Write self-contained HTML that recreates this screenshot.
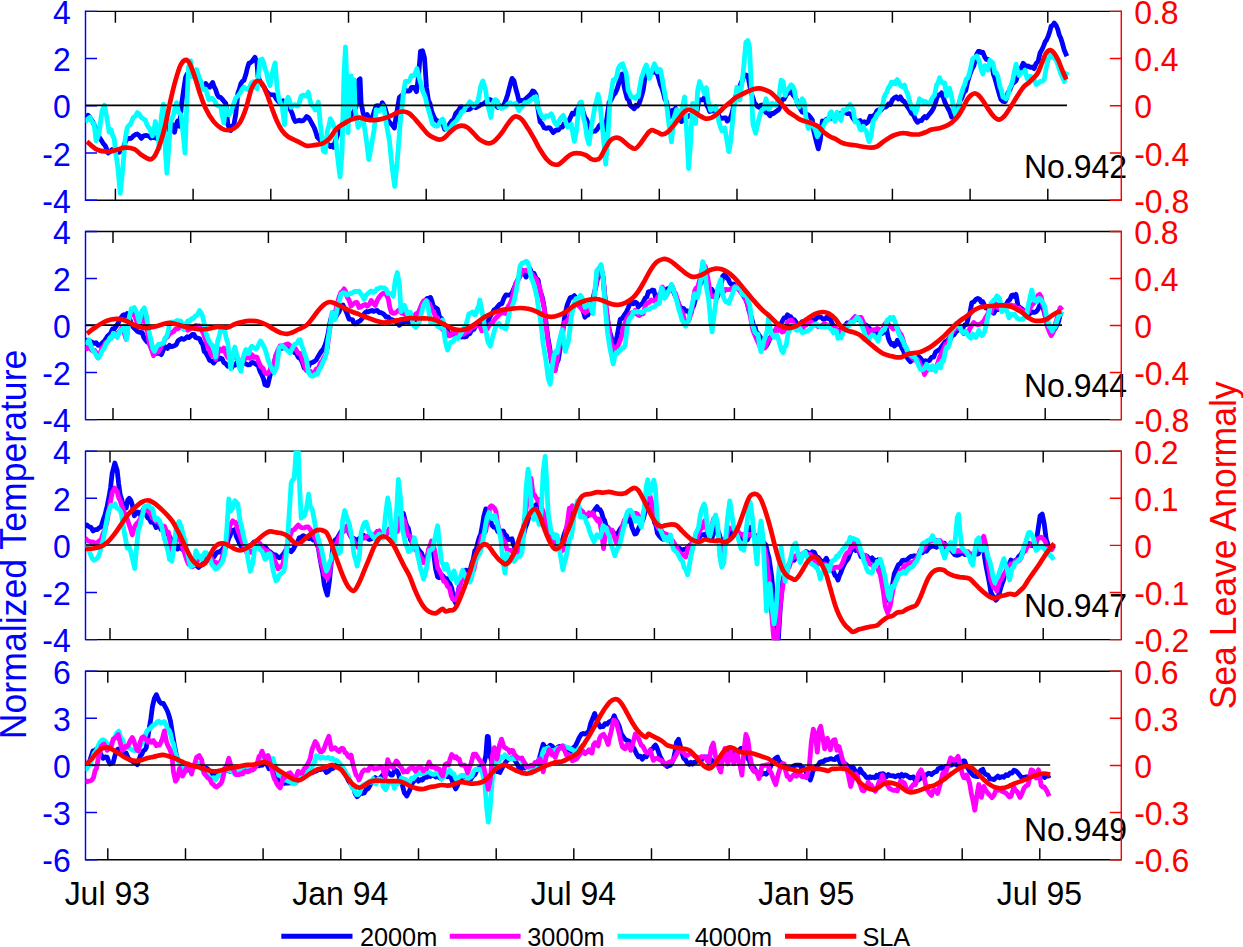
<!DOCTYPE html><html><head><meta charset="utf-8"><style>html,body{margin:0;padding:0;background:#fff;}body{width:1243px;height:947px;overflow:hidden;position:relative;font-family:"Liberation Sans",sans-serif;}</style></head><body>
<svg width="1243" height="947" viewBox="0 0 1243 947" style="position:absolute;left:0;top:0">
<rect width="1243" height="947" fill="#fff"/>
<g fill="none" stroke-width="1.45" stroke-linecap="butt">
<path d="M85.5 11.35 H1121.3 M85.5 200.25 H1121.3 M115.4 11.35 v11.5 M115.4 200.25 v-11.5 M193.1 11.35 v11.5 M193.1 200.25 v-11.5 M270.8 11.35 v11.5 M270.8 200.25 v-11.5 M348.5 11.35 v11.5 M348.5 200.25 v-11.5 M426.2 11.35 v11.5 M426.2 200.25 v-11.5 M503.9 11.35 v11.5 M503.9 200.25 v-11.5 M581.6 11.35 v11.5 M581.6 200.25 v-11.5 M659.3 11.35 v11.5 M659.3 200.25 v-11.5 M737.0 11.35 v11.5 M737.0 200.25 v-11.5 M814.7 11.35 v11.5 M814.7 200.25 v-11.5 M892.4 11.35 v11.5 M892.4 200.25 v-11.5 M970.1 11.35 v11.5 M970.1 200.25 v-11.5 M1047.8 11.35 v11.5 M1047.8 200.25 v-11.5" stroke="#000"/>
<path d="M85.5 10.62 V200.97 M85.5 11.35 h11.5 M85.5 58.58 h11.5 M85.5 105.80 h11.5 M85.5 153.03 h11.5 M85.5 200.25 h11.5" stroke="#0000ff"/>
</g>
<clipPath id="c0"><rect x="85.5" y="10.62" width="1035.8" height="190.35"/></clipPath>
<g clip-path="url(#c0)" fill="none" stroke-linejoin="round" stroke-linecap="butt">
<path d="M85.0 118.6 L86.5 118.7 L88.0 115.3 L89.7 117.0 L91.4 119.9 L93.0 122.2 L95.1 127.0 L97.1 134.1 L99.1 137.2 L101.1 140.0 L103.1 143.3 L105.1 145.5 L106.6 149.0 L108.1 153.0 L110.1 151.7 L112.2 149.5 L113.7 150.4 L115.2 150.2 L117.2 151.8 L119.2 152.3 L121.2 149.9 L123.2 148.1 L125.2 142.3 L127.2 138.5 L129.2 138.5 L131.3 138.3 L133.3 136.0 L135.3 134.6 L137.3 134.0 L139.3 135.6 L141.3 138.4 L143.3 136.1 L145.3 135.4 L147.3 135.7 L149.4 136.3 L151.0 138.0 L152.7 137.5 L154.4 137.4 L156.4 138.4 L158.4 138.9 L160.2 135.5 L161.9 132.7 L163.7 132.0 L165.5 130.8 L167.5 125.9 L169.5 124.5 L171.5 123.7 L173.0 127.2 L174.5 132.2 L176.0 125.0 L177.5 121.1 L179.5 126.2 L181.5 104.9 L183.6 90.1 L185.6 77.2 L187.1 73.9 L188.6 73.7 L190.1 74.4 L191.6 76.0 L193.6 75.9 L195.6 76.8 L197.6 79.5 L199.6 81.7 L201.7 86.7 L203.7 88.9 L205.7 83.6 L207.7 86.1 L209.7 87.3 L211.2 84.6 L212.7 82.5 L214.2 86.9 L215.7 89.7 L217.2 94.5 L218.7 96.9 L220.8 97.6 L222.8 99.9 L224.3 101.7 L225.8 103.6 L227.8 124.1 L229.3 128.2 L230.8 130.5 L232.3 125.9 L233.8 125.1 L235.8 114.0 L237.9 92.8 L239.4 89.1 L240.9 83.5 L242.4 81.3 L243.9 80.5 L245.9 74.2 L247.4 68.0 L248.9 63.3 L250.4 62.7 L251.9 61.5 L253.4 59.4 L255.0 57.3 L257.0 63.3 L258.0 76.5 L260.0 81.5 L262.0 84.5 L264.0 86.8 L266.0 90.6 L268.0 93.3 L270.0 94.6 L272.0 94.9 L274.1 94.8 L276.1 98.8 L278.1 101.1 L279.8 102.7 L281.4 102.6 L283.1 100.7 L284.8 102.8 L286.5 104.2 L288.1 104.3 L290.1 109.2 L292.2 113.5 L293.7 118.5 L295.2 121.5 L297.2 120.9 L299.2 120.2 L301.2 121.0 L303.2 120.7 L305.2 118.5 L306.7 116.5 L308.3 117.5 L309.8 119.5 L311.3 122.4 L312.8 125.2 L314.3 127.9 L315.8 132.1 L317.3 137.2 L319.3 139.5 L321.3 140.4 L323.0 139.9 L324.7 142.5 L326.4 144.5 L328.4 144.4 L330.4 146.6 L331.9 145.4 L333.4 147.3 L335.0 142.1 L337.0 136.5 L339.0 129.6 L341.0 127.0 L343.0 122.6 L345.1 121.8 L347.1 120.4 L349.1 116.9 L351.1 115.1 L353.1 112.8 L355.1 109.0 L357.1 103.6 L358.7 80.1 L360.1 78.9 L361.1 103.1 L363.2 113.5 L365.2 117.2 L367.2 114.5 L368.7 118.2 L370.2 119.8 L372.2 117.6 L374.2 111.4 L376.2 105.8 L377.7 105.7 L379.2 107.6 L380.8 106.5 L382.3 102.7 L383.8 105.2 L385.3 108.9 L386.8 114.3 L388.3 120.4 L390.3 123.1 L392.3 125.1 L394.3 128.0 L396.3 115.4 L397.9 105.9 L399.4 97.5 L400.9 96.0 L402.4 94.9 L403.9 92.3 L405.4 90.1 L406.9 90.9 L408.4 91.2 L409.9 90.8 L411.4 87.4 L412.9 87.3 L414.4 87.6 L416.5 91.7 L418.5 76.3 L420.5 51.3 L422.5 50.7 L424.5 58.0 L426.5 87.5 L428.5 100.5 L430.0 103.6 L431.5 110.5 L433.0 114.8 L434.6 118.3 L436.1 120.1 L437.6 121.1 L439.6 122.0 L441.6 122.6 L443.1 124.3 L444.6 129.2 L446.1 126.5 L447.6 127.0 L449.6 124.0 L451.7 121.0 L453.7 119.5 L455.7 113.5 L457.4 111.8 L459.0 109.5 L460.7 106.9 L462.4 107.0 L464.1 108.4 L465.7 109.6 L467.7 109.6 L469.8 109.1 L471.8 107.4 L473.8 106.5 L475.8 107.9 L477.8 106.5 L479.5 105.8 L481.2 104.3 L482.8 104.1 L484.8 102.7 L486.9 100.6 L488.5 99.6 L490.2 99.6 L491.9 100.5 L493.9 102.4 L495.9 105.6 L497.9 107.4 L499.9 105.6 L501.9 107.8 L503.9 104.9 L506.0 99.6 L507.5 95.2 L509.0 89.4 L510.5 83.5 L512.0 78.4 L514.0 80.7 L516.0 89.5 L517.5 94.5 L519.0 101.2 L521.0 100.5 L523.1 100.3 L525.1 99.3 L527.1 97.7 L529.1 95.7 L531.1 93.7 L532.6 90.9 L534.1 91.5 L536.1 94.8 L538.1 109.6 L540.1 121.9 L542.2 124.0 L544.2 127.8 L546.2 128.4 L548.2 127.7 L549.9 127.8 L551.5 130.2 L553.2 132.6 L554.7 131.3 L556.2 129.8 L558.3 130.2 L560.3 127.4 L562.3 127.2 L564.3 123.3 L566.3 121.9 L568.3 122.3 L570.3 117.7 L572.3 113.3 L574.3 114.0 L576.4 109.8 L578.4 107.9 L580.4 102.8 L582.7 110.6 L585.0 117.7 L586.5 119.3 L588.0 123.5 L589.5 128.2 L591.0 130.5 L593.0 131.4 L595.1 131.2 L597.1 129.4 L599.1 126.0 L600.6 124.4 L602.1 125.3 L603.6 128.1 L605.1 130.0 L607.1 116.9 L609.1 102.4 L611.1 100.0 L613.2 95.4 L615.2 93.2 L617.2 88.7 L618.7 83.6 L620.2 79.0 L622.2 74.0 L624.2 86.9 L625.7 92.8 L627.2 98.6 L628.7 99.7 L630.3 105.4 L632.3 107.1 L634.3 108.8 L635.8 105.3 L637.3 106.3 L638.8 104.3 L640.3 100.1 L641.8 95.3 L643.3 89.7 L645.3 76.0 L646.8 74.0 L648.4 72.0 L649.9 71.0 L651.4 72.8 L652.9 72.3 L654.4 68.7 L655.9 72.7 L657.4 74.1 L658.9 79.0 L660.4 84.6 L661.9 87.9 L663.4 93.0 L664.9 99.2 L666.5 101.7 L668.0 108.7 L669.5 117.1 L671.0 113.7 L672.5 110.2 L674.0 111.2 L675.5 108.2 L677.0 112.3 L678.5 115.2 L680.0 118.6 L681.5 121.6 L683.0 120.4 L684.6 118.2 L686.1 116.5 L687.6 116.9 L689.6 115.4 L691.6 115.5 L693.6 114.9 L695.6 117.9 L697.1 110.7 L698.6 101.3 L700.1 99.8 L701.7 99.9 L703.2 99.4 L704.7 97.1 L706.7 105.1 L708.2 107.9 L709.7 111.5 L711.7 111.0 L713.7 110.0 L715.7 112.3 L717.7 113.9 L719.8 117.2 L721.8 118.3 L723.8 118.0 L725.8 118.0 L727.3 121.1 L728.8 119.7 L730.3 117.9 L731.8 113.9 L733.3 107.9 L734.8 98.7 L736.3 94.7 L737.9 88.7 L739.4 87.8 L740.9 83.2 L742.4 80.3 L743.9 76.0 L745.9 74.9 L747.9 75.7 L749.9 86.5 L751.4 93.6 L752.9 97.7 L754.4 102.7 L756.0 104.6 L757.5 106.5 L759.0 107.3 L760.5 105.5 L762.0 104.9 L764.0 110.1 L766.0 112.4 L768.0 113.2 L770.0 115.8 L771.7 113.3 L773.4 113.5 L775.1 112.2 L777.1 110.8 L779.1 109.1 L780.6 104.1 L782.1 99.7 L784.1 99.2 L786.1 95.2 L788.1 93.1 L790.1 91.2 L791.7 92.8 L793.2 95.1 L794.7 96.8 L796.2 99.4 L798.2 105.4 L800.2 108.5 L802.2 112.0 L804.2 112.7 L806.2 114.0 L808.3 114.9 L810.3 117.1 L812.3 119.9 L813.8 131.3 L815.3 137.4 L816.8 143.3 L818.3 148.9 L820.3 140.0 L822.3 120.9 L824.3 121.8 L826.4 119.1 L828.4 118.9 L830.4 118.3 L832.7 118.2 L835.0 116.0 L836.7 115.6 L838.4 116.8 L840.0 113.8 L841.7 113.2 L843.4 113.0 L845.1 111.5 L847.1 113.5 L849.1 113.7 L850.8 114.0 L852.4 117.4 L854.1 119.7 L856.1 120.8 L858.1 121.7 L860.1 120.4 L862.2 123.1 L864.2 121.7 L866.2 123.4 L868.2 121.7 L870.2 116.2 L871.9 116.9 L873.5 115.6 L875.2 114.4 L876.9 110.9 L878.6 109.9 L880.3 110.9 L881.9 109.2 L883.6 106.8 L885.3 107.2 L887.0 106.0 L888.6 103.9 L890.3 104.6 L892.3 100.0 L894.3 97.9 L896.3 96.8 L898.4 99.0 L900.4 96.9 L902.4 100.5 L903.9 101.2 L905.4 103.4 L907.4 106.7 L909.4 109.7 L911.4 113.3 L913.4 115.0 L915.5 119.6 L917.5 122.3 L919.5 120.7 L921.5 120.7 L923.2 118.0 L924.8 116.6 L926.5 117.9 L928.2 115.6 L929.9 113.5 L931.5 111.6 L933.6 108.0 L935.6 102.3 L937.1 97.3 L938.6 95.0 L940.1 95.1 L941.6 92.8 L943.1 96.6 L944.6 101.5 L946.1 104.9 L947.6 107.7 L949.6 111.2 L951.7 117.1 L953.2 116.6 L954.7 115.0 L956.2 111.8 L957.7 108.3 L959.7 101.3 L961.7 98.4 L963.7 92.7 L965.7 90.6 L967.7 81.8 L969.8 74.6 L971.8 69.3 L973.8 65.9 L975.3 60.0 L976.8 53.9 L978.3 51.5 L979.8 51.3 L981.3 52.7 L982.8 52.2 L984.8 57.1 L986.3 59.3 L987.9 59.5 L989.9 61.9 L991.9 66.1 L993.4 74.1 L994.9 78.3 L996.4 84.0 L997.9 89.4 L999.4 94.7 L1000.9 99.3 L1002.9 101.4 L1005.0 101.7 L1006.5 98.2 L1008.0 92.6 L1010.0 89.7 L1012.0 84.0 L1014.0 82.5 L1016.0 80.8 L1018.0 74.6 L1020.0 70.3 L1021.5 67.4 L1023.1 63.3 L1024.6 64.8 L1026.1 66.6 L1028.1 66.0 L1030.1 67.4 L1032.1 67.0 L1034.1 68.6 L1036.1 63.4 L1038.1 61.4 L1040.1 52.9 L1042.2 49.1 L1043.7 45.6 L1045.2 41.7 L1046.7 39.7 L1048.2 36.1 L1049.7 31.8 L1051.2 25.9 L1052.7 25.3 L1054.2 23.1 L1056.2 25.6 L1057.7 29.1 L1059.3 35.1 L1060.8 38.3 L1062.3 43.0 L1064.3 50.3 L1066.9 56.2" stroke="#0000ff" stroke-width="4.8"/>
<path d="M85.0 118.1 L86.7 120.5 L88.4 118.4 L90.0 117.3 L92.0 121.7 L94.1 123.9 L96.1 140.8 L97.6 137.6 L99.1 133.1 L100.6 121.4 L102.1 110.6 L104.5 105.1 L107.1 119.4 L109.1 132.1 L111.1 129.9 L112.7 135.6 L114.2 138.6 L115.7 153.6 L117.2 162.2 L118.7 176.4 L120.2 193.4 L121.7 179.5 L123.2 164.1 L125.2 138.9 L127.2 127.8 L128.7 125.5 L130.3 124.5 L131.8 121.1 L133.3 117.5 L135.3 116.3 L137.3 112.6 L139.3 114.2 L141.3 117.5 L143.3 118.9 L145.3 120.1 L147.3 125.3 L149.4 128.3 L150.9 132.4 L152.4 135.9 L153.9 130.4 L155.4 121.5 L157.4 129.9 L159.4 148.6 L161.4 115.6 L163.4 104.1 L165.5 153.0 L166.9 173.0 L168.5 151.5 L170.5 122.5 L172.0 118.5 L173.5 114.7 L175.0 107.7 L176.5 102.6 L178.5 112.2 L181.1 114.9 L183.1 133.5 L185.0 153.1 L186.6 110.4 L188.6 66.9 L190.6 60.9 L192.6 76.7 L194.6 73.1 L196.6 69.5 L198.1 74.4 L199.6 78.6 L201.2 82.0 L202.7 89.1 L204.2 89.6 L205.7 89.1 L207.2 94.4 L208.7 99.7 L210.7 98.4 L212.7 98.4 L214.7 101.1 L216.7 105.1 L218.7 106.1 L220.8 106.9 L222.3 116.3 L223.8 122.8 L225.8 106.9 L227.3 112.1 L228.8 114.8 L230.8 112.0 L232.8 106.4 L234.3 102.1 L235.8 97.8 L237.9 96.0 L239.9 93.5 L241.9 89.5 L243.9 87.0 L245.9 88.7 L247.9 89.6 L249.6 87.5 L251.3 83.1 L252.9 81.7 L255.0 87.2 L257.0 88.7 L258.5 74.9 L260.0 60.1 L262.0 59.1 L263.5 62.0 L265.0 68.7 L266.5 72.4 L268.0 80.0 L270.0 85.6 L271.5 77.2 L273.1 69.7 L275.1 62.9 L277.1 88.4 L279.1 99.8 L280.6 103.3 L282.1 106.3 L284.5 124.6 L286.1 101.1 L288.1 97.3 L289.6 101.1 L291.2 107.4 L293.2 105.3 L295.2 104.6 L296.7 106.2 L298.2 105.9 L299.7 101.6 L301.2 96.0 L303.2 95.1 L305.2 95.9 L306.7 96.0 L308.3 92.1 L309.8 99.4 L311.3 105.0 L313.3 106.3 L315.3 110.0 L316.8 106.4 L318.3 102.0 L320.3 123.6 L321.8 136.8 L323.3 151.0 L325.3 152.2 L327.4 130.6 L328.9 125.6 L330.4 118.7 L332.7 123.1 L335.0 129.0 L337.0 152.4 L338.5 164.5 L340.0 176.8 L342.0 153.1 L344.1 71.8 L345.5 46.8 L347.1 88.5 L348.1 132.6 L349.5 76.7 L351.1 75.9 L352.7 106.0 L354.1 79.6 L355.1 108.8 L356.6 118.7 L358.1 127.3 L360.1 123.8 L361.6 122.2 L363.2 119.2 L364.7 128.9 L366.2 138.8 L368.8 159.5 L371.2 146.7 L372.7 137.8 L374.2 129.3 L376.2 109.7 L377.7 110.3 L379.2 111.0 L381.3 109.0 L383.3 106.1 L384.8 113.4 L386.3 123.5 L387.8 131.8 L389.3 139.8 L390.8 154.9 L392.3 168.6 L394.7 186.4 L397.3 160.7 L398.9 140.1 L400.4 120.7 L401.9 108.6 L403.4 92.7 L405.4 81.5 L406.9 81.3 L408.4 81.5 L409.9 79.5 L411.4 75.6 L412.9 75.7 L414.4 75.6 L416.9 68.5 L419.5 78.9 L421.0 84.0 L422.5 90.6 L424.0 94.1 L425.5 98.0 L427.0 104.9 L428.5 109.9 L430.5 116.7 L432.5 123.9 L434.6 125.6 L436.6 126.1 L438.1 125.7 L439.6 122.8 L441.1 120.3 L442.6 119.0 L444.1 122.5 L445.6 128.7 L447.1 128.8 L448.6 130.4 L450.6 127.3 L452.7 124.0 L454.7 122.3 L456.7 120.4 L458.4 117.5 L460.0 115.3 L461.7 111.8 L463.7 110.8 L465.7 107.0 L467.7 105.3 L469.8 101.8 L471.8 103.4 L473.8 105.9 L475.8 103.7 L477.8 101.4 L479.3 94.0 L480.8 85.8 L482.8 81.0 L485.4 89.2 L487.9 105.5 L489.4 111.4 L490.9 117.5 L492.9 103.9 L494.4 100.0 L495.9 99.7 L497.4 101.1 L498.9 107.1 L500.9 108.0 L502.9 108.1 L504.6 107.0 L506.3 105.9 L508.0 103.9 L510.0 102.8 L512.0 104.2 L514.0 103.9 L516.0 103.4 L517.5 107.9 L519.0 110.6 L521.0 107.4 L523.1 105.4 L524.7 102.6 L526.4 102.6 L528.1 102.0 L530.1 100.5 L532.1 99.0 L534.1 98.4 L536.1 96.6 L538.1 107.3 L540.1 112.9 L542.2 116.6 L544.2 118.3 L546.2 115.8 L547.9 116.4 L549.5 115.3 L551.2 113.8 L552.7 116.4 L554.2 121.6 L555.7 124.0 L557.2 125.0 L559.3 120.6 L561.3 117.4 L563.3 115.4 L565.3 120.5 L567.3 126.7 L569.3 125.9 L571.3 124.3 L572.8 133.4 L574.3 141.4 L576.4 131.3 L577.9 116.5 L579.4 103.4 L581.4 102.0 L583.4 117.5 L585.0 123.5 L587.0 137.4 L589.0 144.1 L590.5 133.7 L592.0 123.2 L593.5 114.9 L595.1 105.6 L596.6 100.6 L598.1 94.3 L600.1 104.5 L601.6 120.4 L603.1 133.8 L605.7 164.2 L608.1 132.6 L610.1 98.8 L611.6 89.9 L613.2 79.9 L615.2 80.2 L616.7 76.2 L618.2 68.8 L619.7 65.8 L621.2 64.5 L622.7 63.8 L624.2 68.4 L626.2 73.3 L628.2 90.4 L629.8 93.5 L631.3 97.1 L633.3 97.2 L635.3 98.4 L636.8 96.0 L638.3 96.5 L639.8 86.8 L641.3 78.4 L642.8 74.2 L644.3 69.3 L646.3 64.9 L647.9 71.0 L649.4 78.5 L651.4 72.0 L652.9 68.1 L654.4 63.7 L655.9 67.2 L657.4 71.9 L658.9 69.2 L660.4 69.6 L662.4 79.7 L663.9 88.8 L665.5 97.7 L667.0 108.2 L668.5 121.1 L670.0 130.9 L671.5 141.9 L673.5 121.2 L675.0 114.6 L676.5 109.6 L678.0 112.7 L679.5 116.3 L681.0 110.8 L682.5 107.1 L684.6 97.0 L686.6 129.9 L688.6 168.5 L690.6 141.9 L692.6 103.4 L694.1 113.5 L695.6 123.5 L697.6 91.3 L699.6 81.5 L701.2 85.9 L702.7 89.4 L704.7 94.0 L706.3 87.7 L708.1 100.5 L710.7 110.3 L712.4 108.8 L714.1 108.6 L715.7 106.3 L717.2 113.7 L718.7 121.0 L720.3 126.4 L721.8 130.8 L723.3 128.7 L724.8 128.0 L726.8 140.0 L728.8 151.7 L730.8 140.8 L732.3 124.5 L733.8 109.2 L735.3 98.7 L736.9 87.1 L738.4 92.9 L739.9 100.0 L741.4 87.7 L742.9 75.3 L744.4 59.6 L745.9 42.4 L747.9 40.6 L749.5 47.3 L750.9 77.3 L752.9 124.0 L755.6 133.1 L758.0 122.6 L759.5 116.5 L761.0 111.6 L762.5 109.5 L764.0 108.7 L766.0 98.8 L768.4 109.0 L770.2 107.6 L772.0 103.2 L774.1 104.9 L776.1 105.5 L777.6 100.6 L779.1 95.2 L781.1 80.2 L783.1 81.7 L785.1 95.4 L786.6 90.7 L788.1 89.5 L789.6 86.9 L791.2 84.8 L792.7 86.0 L794.2 89.5 L796.2 100.8 L797.7 103.5 L799.2 107.1 L800.7 102.7 L802.2 98.8 L804.2 101.8 L806.2 120.1 L808.3 128.5 L809.8 126.3 L811.3 123.0 L812.8 126.1 L814.3 127.6 L815.8 131.4 L817.3 136.7 L819.3 132.4 L821.3 129.1 L822.8 127.3 L824.3 124.0 L826.4 119.9 L828.4 120.0 L829.9 113.2 L831.4 111.7 L833.2 117.0 L835.0 121.2 L837.0 112.3 L839.0 116.4 L841.0 120.4 L843.0 109.9 L844.6 110.3 L846.1 110.0 L848.1 107.3 L850.1 104.4 L851.6 106.9 L853.1 109.4 L855.1 122.0 L856.6 121.4 L858.1 123.1 L860.1 129.3 L861.6 130.0 L863.2 126.2 L864.7 129.8 L866.2 130.7 L867.7 137.3 L869.2 141.6 L871.2 135.5 L873.2 121.2 L875.2 118.4 L877.2 114.4 L879.2 112.5 L880.8 108.5 L882.3 107.0 L883.8 98.6 L885.3 94.4 L886.8 92.4 L888.3 87.8 L889.8 86.3 L891.3 82.3 L892.8 83.5 L894.3 81.9 L895.8 84.0 L897.3 79.5 L898.9 82.0 L900.4 85.3 L902.4 86.9 L904.4 85.0 L905.9 90.5 L907.4 93.0 L908.9 98.3 L910.4 103.7 L911.9 108.2 L913.4 107.6 L915.5 113.2 L917.5 107.4 L919.5 98.8 L921.0 100.6 L922.5 100.7 L924.0 103.2 L925.5 101.5 L927.0 102.6 L928.5 104.2 L930.0 103.4 L931.5 99.3 L933.0 96.9 L934.6 94.9 L936.6 84.9 L938.1 82.8 L939.6 77.6 L941.1 81.5 L942.6 83.1 L944.6 82.9 L946.6 96.1 L948.1 89.5 L949.6 88.2 L951.7 97.2 L953.7 109.7 L955.2 114.0 L956.7 117.8 L958.7 107.1 L960.2 97.3 L961.7 93.0 L963.2 87.6 L964.7 84.9 L966.2 79.0 L967.7 78.1 L969.3 73.5 L970.8 67.2 L972.8 58.5 L974.8 57.3 L976.8 56.0 L978.3 58.9 L979.8 63.2 L981.3 69.8 L982.8 74.0 L984.8 65.7 L986.3 67.9 L987.9 70.1 L989.9 60.2 L991.4 61.5 L992.9 62.9 L994.9 73.0 L996.4 72.9 L997.9 76.5 L999.9 86.5 L1001.4 90.4 L1002.9 97.0 L1004.4 97.7 L1006.0 98.9 L1008.0 95.2 L1009.5 88.4 L1011.0 85.7 L1012.5 81.1 L1014.0 73.4 L1016.0 64.2 L1017.5 70.5 L1019.0 75.5 L1020.5 73.9 L1022.0 72.1 L1023.6 72.2 L1025.1 70.1 L1027.1 78.8 L1028.6 78.9 L1030.1 76.2 L1031.6 77.1 L1033.1 79.7 L1034.6 80.5 L1036.1 84.5 L1038.1 83.6 L1040.1 81.5 L1042.2 81.4 L1044.2 79.6 L1046.2 68.0 L1048.2 59.3 L1049.7 58.0 L1051.2 53.2 L1052.7 56.5 L1054.2 58.1 L1056.2 60.3 L1057.7 64.4 L1059.3 69.0 L1060.8 73.9 L1062.3 76.9 L1064.3 81.6 L1065.8 75.3 L1067.3 71.8" stroke="#00ffff" stroke-width="4.8"/>
<path d="M85.5 105.40 H1067.0" stroke="#000" stroke-width="1.6" stroke-linecap="butt"/>
<path d="M87.0 141.7 C88.7 143.0 93.5 148.1 97.1 149.7 C100.6 151.4 104.8 151.7 108.1 151.7 C111.5 151.7 114.3 150.4 117.2 149.7 C120.0 149.1 122.4 147.8 125.2 147.7 C128.1 147.6 131.6 148.0 134.3 149.1 C137.0 150.3 139.1 153.2 141.3 154.8 C143.5 156.3 145.7 157.6 147.3 158.4 C149.0 159.1 150.0 159.8 151.4 159.2 C152.7 158.6 153.9 157.5 155.4 154.8 C156.9 152.0 158.7 147.7 160.4 142.7 C162.1 137.7 163.8 131.6 165.5 124.6 C167.1 117.6 168.8 107.8 170.5 100.5 C172.2 93.1 173.8 86.2 175.5 80.4 C177.2 74.5 178.9 68.7 180.5 65.3 C182.2 61.9 184.1 60.2 185.6 59.9 C187.1 59.5 188.1 60.5 189.6 63.3 C191.1 66.0 192.9 71.5 194.6 76.3 C196.3 81.2 197.8 87.1 199.6 92.4 C201.5 97.8 203.3 103.7 205.7 108.5 C208.0 113.4 211.0 118.2 213.7 121.6 C216.4 124.9 219.4 127.2 221.8 128.6 C224.1 130.1 225.8 130.2 227.8 130.2 C229.8 130.2 231.8 129.9 233.8 128.6 C235.8 127.4 237.9 125.9 239.9 122.6 C241.9 119.2 244.1 113.9 245.9 108.5 C247.7 103.2 249.4 94.8 250.9 90.4 C252.4 86.1 253.8 84.0 255.0 82.4 C256.1 80.8 256.8 80.6 258.0 80.8 C259.1 80.9 260.5 81.1 262.0 83.4 C263.5 85.7 265.3 90.3 267.0 94.4 C268.7 98.6 270.4 104.0 272.0 108.5 C273.7 113.0 275.4 117.9 277.1 121.6 C278.8 125.3 280.3 128.1 282.1 130.6 C283.9 133.1 285.5 134.8 288.1 136.7 C290.8 138.5 295.2 140.2 298.2 141.7 C301.2 143.2 303.6 145.1 306.2 145.7 C308.9 146.3 311.6 145.4 314.3 145.1 C317.0 144.8 319.8 144.8 322.3 143.7 C324.8 142.6 327.3 140.9 329.4 138.7 C331.5 136.5 333.4 132.6 335.0 130.6 C336.6 128.6 337.5 127.8 339.0 126.6 C340.5 125.4 342.0 124.8 344.1 123.6 C346.1 122.4 348.6 120.6 351.1 119.6 C353.6 118.6 356.5 117.6 359.1 117.6 C361.8 117.6 364.5 119.1 367.2 119.6 C369.9 120.0 372.5 120.3 375.2 120.2 C377.9 120.0 380.6 119.3 383.3 118.6 C386.0 117.8 389.0 116.6 391.3 115.6 C393.7 114.6 395.3 113.2 397.3 112.5 C399.4 111.9 401.4 111.4 403.4 111.5 C405.4 111.7 407.4 112.2 409.4 113.5 C411.4 114.9 413.4 117.4 415.5 119.6 C417.5 121.8 419.5 124.3 421.5 126.6 C423.5 129.0 425.5 131.8 427.5 133.7 C429.5 135.5 431.5 136.7 433.6 137.7 C435.6 138.7 437.7 139.7 439.6 139.7 C441.4 139.7 442.9 138.8 444.6 137.7 C446.3 136.5 447.8 134.3 449.6 132.6 C451.5 131.0 453.7 128.8 455.7 127.6 C457.7 126.4 459.7 125.6 461.7 125.6 C463.7 125.6 465.7 126.3 467.7 127.6 C469.8 129.0 471.8 131.6 473.8 133.7 C475.8 135.7 477.8 138.2 479.8 139.7 C481.8 141.2 484.0 142.1 485.8 142.7 C487.7 143.3 489.2 143.6 490.9 143.1 C492.5 142.6 494.1 141.4 495.9 139.7 C497.7 137.9 499.9 135.3 501.9 132.6 C503.9 130.0 506.1 126.1 508.0 123.6 C509.8 121.1 511.5 118.7 513.0 117.6 C514.5 116.4 515.5 116.2 517.0 116.6 C518.5 116.9 520.2 117.6 522.0 119.6 C523.9 121.6 526.1 125.4 528.1 128.6 C530.1 131.8 532.1 135.2 534.1 138.7 C536.1 142.2 538.1 146.4 540.1 149.7 C542.2 153.1 544.2 156.4 546.2 158.8 C548.2 161.1 550.2 162.9 552.2 163.8 C554.2 164.7 556.2 165.1 558.3 164.4 C560.3 163.7 562.3 161.4 564.3 159.8 C566.3 158.2 568.3 155.9 570.3 154.8 C572.3 153.7 573.9 153.2 576.4 153.2 C578.8 153.2 582.6 153.8 585.0 154.8 C587.4 155.7 589.2 157.9 591.0 158.8 C592.9 159.6 594.6 160.0 596.1 159.8 C597.6 159.6 598.6 159.6 600.1 157.8 C601.6 155.9 603.4 151.6 605.1 148.7 C606.8 145.9 608.5 142.5 610.1 140.7 C611.8 138.8 613.5 138.0 615.2 137.7 C616.8 137.3 618.5 137.8 620.2 138.7 C621.9 139.5 623.5 141.4 625.2 142.7 C626.9 144.0 628.6 145.7 630.3 146.7 C631.9 147.7 633.6 149.2 635.3 148.7 C637.0 148.2 638.6 145.7 640.3 143.7 C642.0 141.7 643.8 138.7 645.3 136.7 C646.8 134.7 648.2 132.7 649.4 131.6 C650.5 130.6 651.0 130.1 652.4 130.2 C653.7 130.3 655.7 131.6 657.4 132.2 C659.1 132.9 660.8 134.3 662.4 134.3 C664.1 134.3 665.6 133.7 667.5 132.2 C669.3 130.8 671.5 128.1 673.5 125.6 C675.5 123.2 677.7 119.9 679.5 117.6 C681.4 115.2 683.0 112.9 684.6 111.5 C686.1 110.2 687.1 109.5 688.6 109.5 C690.1 109.5 691.8 110.5 693.6 111.5 C695.5 112.5 697.6 114.4 699.6 115.6 C701.7 116.7 703.7 118.2 705.7 118.6 C707.7 118.9 709.7 118.4 711.7 117.6 C713.7 116.7 715.7 115.2 717.7 113.5 C719.8 111.9 721.8 109.4 723.8 107.5 C725.8 105.7 727.8 104.2 729.8 102.5 C731.8 100.8 733.8 98.8 735.8 97.5 C737.9 96.1 739.9 95.4 741.9 94.4 C743.9 93.4 745.9 92.3 747.9 91.4 C749.9 90.5 752.1 89.5 753.9 89.0 C755.8 88.5 757.3 88.3 759.0 88.4 C760.7 88.5 762.2 88.8 764.0 89.4 C765.8 90.0 768.0 90.7 770.0 92.0 C772.0 93.4 774.1 95.4 776.1 97.5 C778.1 99.5 780.1 102.2 782.1 104.5 C784.1 106.8 786.1 109.7 788.1 111.5 C790.1 113.4 792.2 114.2 794.2 115.6 C796.2 116.9 798.2 118.6 800.2 119.6 C802.2 120.6 804.2 120.9 806.2 121.6 C808.3 122.3 810.3 122.8 812.3 123.6 C814.3 124.4 816.3 125.1 818.3 126.6 C820.3 128.1 822.3 131.0 824.3 132.6 C826.4 134.3 828.6 135.7 830.4 136.7 C832.2 137.7 833.2 137.7 835.0 138.7 C836.8 139.6 839.0 141.4 841.0 142.3 C843.0 143.2 844.7 143.8 847.1 144.3 C849.4 144.8 852.4 144.9 855.1 145.3 C857.8 145.7 860.5 146.3 863.2 146.7 C865.8 147.1 868.9 147.8 871.2 147.7 C873.5 147.7 875.2 147.3 877.2 146.3 C879.2 145.3 881.3 143.1 883.3 141.7 C885.3 140.3 887.3 138.8 889.3 137.7 C891.3 136.5 893.0 135.4 895.3 134.7 C897.7 133.9 900.7 133.1 903.4 133.0 C906.1 133.0 908.7 134.1 911.4 134.3 C914.1 134.5 917.1 134.6 919.5 134.3 C921.8 133.9 923.5 133.0 925.5 132.2 C927.5 131.5 929.2 130.3 931.5 129.6 C933.9 129.0 937.2 128.8 939.6 128.2 C941.9 127.7 943.6 127.1 945.6 126.2 C947.6 125.3 949.6 124.2 951.7 122.6 C953.7 121.0 955.8 118.9 957.7 116.6 C959.5 114.2 961.2 111.2 962.7 108.5 C964.2 105.8 965.4 102.7 966.7 100.5 C968.1 98.3 969.4 96.6 970.8 95.4 C972.1 94.3 973.4 93.4 974.8 93.4 C976.1 93.4 977.5 94.3 978.8 95.4 C980.1 96.6 981.3 98.3 982.8 100.5 C984.3 102.7 986.0 105.8 987.9 108.5 C989.7 111.2 992.0 114.7 993.9 116.6 C995.7 118.4 997.2 119.6 998.9 119.6 C1000.6 119.6 1002.3 118.2 1003.9 116.6 C1005.6 114.9 1007.3 112.0 1009.0 109.5 C1010.7 107.0 1012.3 104.2 1014.0 101.5 C1015.7 98.8 1017.4 96.0 1019.0 93.4 C1020.7 90.9 1022.4 88.2 1024.1 86.4 C1025.7 84.6 1027.4 83.9 1029.1 82.4 C1030.8 80.9 1032.6 79.0 1034.1 77.4 C1035.6 75.7 1036.8 74.8 1038.1 72.3 C1039.5 69.8 1040.8 65.5 1042.2 62.3 C1043.5 59.1 1044.8 55.2 1046.2 53.2 C1047.5 51.2 1048.9 50.2 1050.2 50.2 C1051.5 50.2 1052.9 51.6 1054.2 53.2 C1055.6 54.9 1056.9 57.4 1058.3 60.3 C1059.6 63.1 1060.9 67.1 1062.3 70.3 C1063.6 73.5 1065.6 77.9 1066.3 79.4" stroke="#ff0000" stroke-width="4.7"/>
</g>
<text transform="translate(1024.00,177.75) scale(1,1.040)" text-anchor="start" font-size="32.00" fill="#000" font-family="Liberation Sans, sans-serif">No.942</text>
<path d="M1121.3 10.62 V200.97 M1121.3 11.35 h-11.5 M1121.3 58.58 h-11.5 M1121.3 105.80 h-11.5 M1121.3 153.03 h-11.5 M1121.3 200.25 h-11.5" stroke="#ff0000" fill="none" stroke-width="1.45"/>
<text transform="translate(70.70,23.95) scale(1,1.040)" text-anchor="end" font-size="32.00" fill="#0000ff" font-family="Liberation Sans, sans-serif">4</text>
<text transform="translate(1134.15,23.95) scale(1,1.040)" text-anchor="start" font-size="32.00" fill="#ff0000" font-family="Liberation Sans, sans-serif">0.8</text>
<text transform="translate(70.70,71.17) scale(1,1.040)" text-anchor="end" font-size="32.00" fill="#0000ff" font-family="Liberation Sans, sans-serif">2</text>
<text transform="translate(1134.15,71.17) scale(1,1.040)" text-anchor="start" font-size="32.00" fill="#ff0000" font-family="Liberation Sans, sans-serif">0.4</text>
<text transform="translate(70.70,118.40) scale(1,1.040)" text-anchor="end" font-size="32.00" fill="#0000ff" font-family="Liberation Sans, sans-serif">0</text>
<text transform="translate(1134.15,118.40) scale(1,1.040)" text-anchor="start" font-size="32.00" fill="#ff0000" font-family="Liberation Sans, sans-serif">0</text>
<text transform="translate(70.70,165.62) scale(1,1.040)" text-anchor="end" font-size="32.00" fill="#0000ff" font-family="Liberation Sans, sans-serif">-2</text>
<text transform="translate(1134.15,165.62) scale(1,1.040)" text-anchor="start" font-size="32.00" fill="#ff0000" font-family="Liberation Sans, sans-serif">-0.4</text>
<text transform="translate(70.70,212.85) scale(1,1.040)" text-anchor="end" font-size="32.00" fill="#0000ff" font-family="Liberation Sans, sans-serif">-4</text>
<text transform="translate(1134.15,212.85) scale(1,1.040)" text-anchor="start" font-size="32.00" fill="#ff0000" font-family="Liberation Sans, sans-serif">-0.8</text>
<g fill="none" stroke-width="1.45" stroke-linecap="butt">
<path d="M85.5 231.50 H1121.3 M85.5 419.60 H1121.3 M113.0 231.50 v11.5 M113.0 419.60 v-11.5 M190.7 231.50 v11.5 M190.7 419.60 v-11.5 M268.4 231.50 v11.5 M268.4 419.60 v-11.5 M346.0 231.50 v11.5 M346.0 419.60 v-11.5 M423.7 231.50 v11.5 M423.7 419.60 v-11.5 M501.4 231.50 v11.5 M501.4 419.60 v-11.5 M579.1 231.50 v11.5 M579.1 419.60 v-11.5 M656.8 231.50 v11.5 M656.8 419.60 v-11.5 M734.4 231.50 v11.5 M734.4 419.60 v-11.5 M812.1 231.50 v11.5 M812.1 419.60 v-11.5 M889.8 231.50 v11.5 M889.8 419.60 v-11.5 M967.5 231.50 v11.5 M967.5 419.60 v-11.5 M1045.2 231.50 v11.5 M1045.2 419.60 v-11.5" stroke="#000"/>
<path d="M85.5 230.78 V420.33 M85.5 231.50 h11.5 M85.5 278.52 h11.5 M85.5 325.55 h11.5 M85.5 372.58 h11.5 M85.5 419.60 h11.5" stroke="#0000ff"/>
</g>
<clipPath id="c1"><rect x="85.5" y="230.78" width="1035.8" height="189.55"/></clipPath>
<g clip-path="url(#c1)" fill="none" stroke-linejoin="round" stroke-linecap="butt">
<path d="M85.0 341.6 L87.0 340.2 L89.0 342.7 L91.0 341.6 L92.7 342.5 L94.4 343.3 L96.1 342.7 L98.1 345.3 L100.1 345.4 L102.1 343.1 L104.1 341.4 L105.8 339.0 L107.5 336.2 L109.1 334.9 L110.8 333.0 L112.5 328.9 L114.2 329.1 L116.2 326.1 L118.2 323.2 L119.7 319.4 L121.2 317.4 L122.7 315.4 L124.2 314.6 L125.7 316.0 L127.2 313.6 L128.7 316.8 L130.3 320.4 L131.8 325.0 L133.3 327.2 L135.3 329.2 L137.3 331.3 L139.0 332.2 L140.6 332.5 L142.3 332.7 L143.8 337.5 L145.3 339.8 L147.3 342.2 L149.4 343.2 L151.4 348.9 L153.4 352.4 L155.4 353.5 L157.4 353.4 L159.4 353.0 L161.4 354.6 L163.4 349.6 L165.5 346.8 L167.5 348.4 L169.5 345.3 L171.1 346.7 L172.8 346.3 L174.5 345.7 L176.2 344.7 L177.9 340.9 L179.5 339.7 L181.5 338.5 L183.6 339.4 L185.6 338.2 L187.2 336.7 L188.9 337.6 L190.6 336.2 L192.3 334.5 L193.9 334.3 L195.6 337.5 L197.6 338.1 L199.6 338.8 L201.2 342.6 L202.7 344.5 L204.2 351.5 L205.7 352.6 L207.7 356.3 L209.7 360.5 L211.7 361.0 L213.7 363.0 L215.4 360.8 L217.1 358.4 L218.7 359.2 L220.4 358.0 L222.1 358.7 L223.8 362.4 L225.8 363.7 L227.8 366.3 L229.8 365.0 L231.8 367.7 L233.5 364.4 L235.2 365.1 L236.9 362.5 L238.5 363.6 L240.2 363.8 L241.9 362.6 L243.9 362.8 L245.9 363.9 L247.9 364.9 L249.9 364.6 L251.9 362.4 L253.9 362.9 L256.0 364.4 L258.0 365.0 L260.0 371.4 L262.0 375.0 L263.5 378.8 L265.0 384.8 L267.6 385.6 L270.0 375.7 L271.5 371.3 L273.1 369.1 L274.6 360.8 L276.1 354.9 L277.6 353.8 L279.1 348.7 L281.1 348.3 L283.1 347.9 L284.8 347.8 L286.5 347.7 L288.1 344.8 L290.1 347.1 L292.2 349.0 L294.2 352.4 L296.2 353.2 L298.2 357.3 L300.2 358.4 L302.2 362.0 L304.2 368.1 L306.2 367.1 L308.3 366.9 L310.3 363.1 L312.3 362.5 L314.3 361.5 L316.3 359.9 L318.0 356.7 L319.6 354.1 L321.3 351.4 L323.3 349.0 L325.3 344.6 L326.9 339.0 L328.4 331.9 L329.9 323.0 L331.4 316.5 L333.2 317.6 L335.0 318.2 L337.0 314.7 L339.0 311.8 L341.0 307.0 L343.0 305.0 L345.1 309.2 L347.1 313.8 L349.1 319.1 L351.1 319.5 L352.6 319.8 L354.1 323.8 L356.1 323.8 L358.1 321.8 L360.1 320.8 L362.2 318.5 L363.7 314.4 L365.2 312.5 L366.8 311.5 L368.5 311.8 L370.2 311.0 L371.9 310.4 L373.5 311.4 L375.2 310.8 L377.2 310.4 L379.2 312.5 L381.3 312.7 L383.3 313.9 L384.8 315.2 L386.3 317.2 L388.3 316.9 L390.3 319.4 L392.0 319.7 L393.7 320.5 L395.3 321.0 L397.3 323.0 L399.4 325.3 L401.0 323.8 L402.7 323.2 L404.4 321.1 L406.1 321.5 L407.7 322.1 L409.4 321.7 L411.4 322.6 L413.4 318.8 L415.5 319.7 L417.5 314.3 L419.5 310.8 L421.5 306.1 L423.5 301.4 L425.5 300.5 L427.2 298.3 L428.9 298.4 L430.5 297.4 L432.0 301.3 L433.6 306.8 L435.6 307.7 L437.6 309.0 L439.6 317.3 L441.6 318.5 L443.6 323.7 L445.6 329.3 L447.6 331.2 L449.6 334.3 L451.7 334.9 L453.7 333.1 L455.7 333.8 L457.7 335.1 L459.7 336.2 L461.4 337.0 L463.1 336.6 L464.7 337.0 L466.4 336.6 L468.1 333.2 L469.8 333.7 L471.8 329.8 L473.8 329.5 L475.8 325.9 L477.5 323.9 L479.1 323.5 L480.8 321.2 L482.5 321.6 L484.2 323.8 L485.8 325.3 L487.9 321.6 L489.9 316.9 L491.9 313.6 L493.9 310.1 L495.9 308.8 L497.9 306.4 L499.9 304.1 L501.9 303.8 L503.9 298.3 L506.0 294.8 L508.0 295.1 L510.0 295.0 L512.0 293.0 L514.0 288.2 L516.0 283.4 L518.0 279.4 L520.0 275.6 L522.0 270.0 L524.1 273.1 L526.1 277.1 L528.1 273.4 L530.1 268.8 L532.1 273.6 L534.1 273.5 L536.1 278.2 L538.1 279.9 L540.1 291.1 L542.2 297.0 L543.7 304.2 L545.2 315.3 L546.7 328.5 L548.2 339.8 L549.7 347.7 L551.2 360.1 L553.2 368.3 L555.2 369.7 L556.7 363.3 L558.3 359.8 L559.8 350.4 L561.3 342.8 L562.8 332.0 L564.3 319.3 L565.8 310.8 L567.3 304.6 L568.8 300.9 L570.3 297.5 L572.3 297.1 L574.3 295.6 L576.4 298.7 L578.4 299.8 L580.4 306.8 L582.4 308.5 L585.0 317.2 L586.5 315.1 L588.0 315.0 L589.5 310.4 L591.0 306.0 L592.5 300.3 L594.1 293.9 L595.6 288.0 L597.1 280.7 L599.1 272.7 L601.1 266.9 L603.1 278.6 L605.1 299.8 L606.6 312.0 L608.1 324.5 L609.6 331.1 L611.1 336.3 L612.7 342.3 L614.2 346.6 L615.7 342.4 L617.2 335.5 L618.7 327.2 L620.2 319.4 L622.2 318.3 L624.2 315.2 L626.2 312.4 L628.2 307.9 L629.8 304.0 L631.3 301.2 L633.3 303.8 L635.3 302.1 L636.8 303.0 L638.3 307.0 L640.3 304.8 L642.3 303.7 L643.8 301.0 L645.3 297.8 L646.8 297.1 L648.4 291.8 L650.4 291.4 L652.4 290.0 L653.9 290.3 L655.4 296.8 L657.4 296.2 L659.4 295.7 L660.9 294.2 L662.4 290.3 L663.9 293.2 L665.5 292.5 L667.0 289.0 L668.5 288.3 L670.0 287.5 L671.5 287.7 L673.0 290.3 L674.5 294.2 L676.0 297.6 L677.5 300.5 L679.5 305.8 L681.5 308.9 L683.6 308.5 L685.6 311.1 L687.6 311.0 L689.6 313.4 L691.6 309.4 L693.6 306.0 L695.1 300.7 L696.6 295.5 L698.1 290.9 L699.6 285.9 L701.2 281.8 L702.7 276.6 L704.2 280.1 L705.7 282.1 L707.2 287.2 L708.7 288.0 L710.2 290.1 L711.7 289.3 L713.2 291.7 L714.7 292.6 L716.7 298.3 L718.2 294.5 L719.8 290.8 L721.3 284.3 L722.8 276.0 L724.8 274.2 L726.8 277.9 L728.3 279.2 L729.8 282.6 L731.8 284.8 L733.8 284.0 L735.8 286.8 L737.9 287.2 L739.9 290.4 L741.9 293.5 L743.9 296.9 L745.9 299.7 L747.4 303.7 L748.9 310.4 L750.4 314.3 L751.9 319.1 L753.4 325.2 L755.0 326.9 L756.5 332.4 L758.0 333.5 L760.0 336.6 L762.0 340.9 L764.0 342.5 L766.0 346.4 L767.5 344.1 L769.0 340.5 L770.5 337.3 L772.0 335.9 L774.1 331.3 L776.1 329.8 L778.1 327.5 L780.1 325.3 L782.1 321.5 L784.1 317.9 L785.8 317.8 L787.5 314.8 L789.1 316.1 L790.7 316.8 L792.2 319.1 L794.2 319.7 L796.2 322.5 L798.2 325.5 L800.2 325.8 L801.9 321.8 L803.6 323.7 L805.2 322.5 L806.9 320.7 L808.6 321.7 L810.3 318.5 L811.9 320.2 L813.6 319.8 L815.3 319.5 L817.3 317.4 L819.3 316.9 L821.3 317.4 L823.3 319.4 L825.0 319.0 L826.7 317.1 L828.4 318.6 L830.4 319.4 L832.4 324.1 L835.0 327.1 L837.0 331.0 L839.0 331.6 L841.0 329.6 L843.0 328.7 L845.1 325.7 L847.1 322.9 L849.1 323.4 L851.1 321.6 L853.1 319.4 L855.1 316.9 L857.1 319.5 L859.1 318.1 L861.1 321.7 L863.2 325.3 L865.2 324.7 L867.2 325.8 L869.2 328.0 L871.2 331.1 L873.2 333.6 L875.2 335.4 L877.2 332.9 L879.2 331.6 L881.3 333.8 L883.3 332.9 L884.8 330.2 L886.3 327.6 L888.3 338.0 L889.8 341.8 L891.3 344.4 L892.8 343.5 L894.3 346.1 L895.8 344.5 L897.3 340.3 L898.9 344.3 L900.4 343.9 L901.9 348.2 L903.4 350.6 L904.9 354.9 L906.4 356.5 L908.4 359.5 L910.4 361.7 L912.1 360.2 L913.8 359.5 L915.5 357.5 L917.5 355.8 L919.5 357.2 L921.5 359.4 L923.5 363.8 L925.5 360.7 L927.5 361.4 L929.5 360.3 L931.5 357.4 L933.6 357.2 L935.6 352.0 L937.6 350.7 L939.6 349.6 L941.6 346.7 L943.6 343.9 L945.3 341.6 L947.0 341.1 L948.6 338.8 L950.3 339.1 L952.0 335.7 L953.7 335.1 L955.7 332.1 L957.7 330.5 L959.4 329.0 L961.0 327.7 L962.7 328.1 L964.7 324.9 L966.7 324.6 L968.2 317.7 L969.8 313.5 L971.8 302.8 L973.8 301.9 L975.8 299.5 L977.8 298.5 L979.8 299.5 L981.3 302.3 L982.8 301.7 L984.3 304.8 L985.8 308.1 L987.9 308.3 L989.9 309.4 L991.9 309.9 L993.9 313.2 L995.9 309.3 L997.9 309.7 L999.9 308.1 L1001.9 309.4 L1003.9 305.8 L1006.0 304.9 L1008.0 301.0 L1010.0 299.3 L1011.5 295.6 L1013.0 295.0 L1014.5 296.5 L1016.0 294.4 L1018.0 305.7 L1020.0 307.6 L1022.0 308.9 L1024.1 311.4 L1026.1 314.3 L1028.1 314.6 L1030.1 313.5 L1032.1 311.9 L1034.1 312.4 L1036.1 311.7 L1038.1 309.2 L1040.1 304.3 L1041.7 305.6 L1043.2 308.5 L1044.7 313.9 L1046.2 320.9 L1047.7 322.7 L1049.2 327.6 L1050.7 326.6 L1052.2 330.8 L1053.7 329.7 L1055.2 328.6 L1056.7 325.3 L1058.3 322.3 L1059.8 316.3 L1061.3 311.7" stroke="#0000ff" stroke-width="4.8"/>
<path d="M85.0 349.2 L87.0 348.6 L89.0 345.1 L91.0 349.6 L93.0 351.1 L94.7 350.5 L96.4 353.2 L98.1 357.7 L100.1 353.4 L102.1 347.5 L103.8 346.4 L105.4 342.6 L107.1 341.9 L109.1 339.9 L111.1 336.3 L113.2 336.0 L114.8 335.6 L116.5 333.3 L118.2 333.8 L120.2 330.4 L122.2 327.1 L124.2 332.9 L126.2 339.3 L127.7 329.1 L129.2 317.9 L130.8 313.2 L132.3 310.6 L134.3 315.0 L136.3 320.5 L137.8 322.8 L139.3 326.4 L141.3 319.9 L143.3 314.4 L144.8 320.9 L146.3 325.7 L147.9 334.1 L149.4 344.2 L151.4 348.4 L153.4 355.7 L155.1 353.0 L156.7 352.2 L158.4 351.8 L160.1 349.3 L161.8 344.5 L163.4 343.5 L165.5 338.0 L167.5 337.1 L169.5 333.6 L171.5 332.7 L173.5 331.7 L175.5 329.0 L177.5 328.9 L179.5 327.5 L181.5 326.7 L183.6 326.1 L185.6 328.6 L187.6 330.2 L189.6 329.3 L191.6 327.1 L193.6 327.3 L195.6 325.4 L197.6 325.9 L199.6 325.8 L201.7 330.1 L203.7 334.3 L205.7 340.1 L207.7 346.3 L209.7 351.1 L211.7 355.6 L213.7 355.7 L215.7 359.5 L217.7 354.0 L219.8 348.9 L221.8 350.8 L223.8 348.0 L225.8 353.9 L227.8 357.7 L229.8 356.7 L231.8 357.2 L233.8 356.0 L235.8 357.6 L237.9 358.4 L239.9 362.2 L241.9 361.2 L243.9 360.1 L245.9 357.8 L247.9 357.5 L249.9 358.3 L251.9 354.5 L253.6 357.5 L255.3 356.8 L257.0 357.3 L259.0 362.9 L261.0 366.8 L263.0 368.2 L265.0 372.9 L266.5 373.8 L268.0 373.1 L269.5 371.4 L271.0 367.0 L272.6 365.5 L274.1 362.6 L276.1 354.7 L278.1 349.6 L280.1 346.0 L282.1 345.8 L284.1 345.4 L286.1 344.3 L288.1 343.9 L290.1 345.5 L291.8 347.5 L293.5 348.6 L295.2 348.3 L296.9 351.2 L298.5 353.6 L300.2 353.3 L302.2 359.8 L304.2 365.0 L306.2 370.3 L308.3 371.9 L310.3 371.2 L312.3 374.7 L314.3 372.4 L316.3 368.8 L318.3 368.3 L320.3 363.2 L322.3 360.6 L324.3 356.9 L325.8 354.3 L327.4 347.3 L328.9 334.9 L330.4 324.8 L331.9 318.0 L333.4 312.6 L335.0 314.3 L337.0 304.4 L339.0 297.4 L340.7 292.7 L342.4 291.3 L344.1 288.9 L345.6 291.5 L347.1 296.9 L349.1 300.3 L351.1 306.1 L353.1 304.1 L355.1 302.6 L357.1 302.5 L359.1 307.5 L361.1 306.9 L363.2 305.2 L365.2 304.4 L367.2 306.2 L369.2 304.4 L371.2 300.5 L373.2 303.3 L375.2 305.5 L377.2 300.5 L379.2 297.0 L380.9 294.9 L382.6 293.5 L384.3 292.9 L386.3 294.6 L388.3 299.0 L389.8 307.2 L391.3 312.4 L393.3 313.3 L395.3 312.8 L397.3 311.3 L399.4 309.8 L401.4 312.9 L403.4 313.4 L405.1 314.5 L406.7 312.9 L408.4 314.6 L410.4 316.2 L412.4 320.1 L414.2 316.2 L416.0 313.8 L417.7 314.9 L419.5 310.2 L421.5 304.7 L423.5 301.1 L425.0 300.2 L426.5 300.8 L428.0 302.2 L429.5 303.8 L431.5 309.3 L433.6 311.9 L435.6 317.2 L437.6 317.8 L439.1 322.9 L440.6 325.8 L442.6 329.6 L444.6 330.6 L446.6 332.3 L448.6 335.8 L450.3 335.6 L452.0 334.0 L453.7 331.3 L455.7 332.7 L457.7 334.3 L459.7 332.0 L461.7 334.3 L463.7 334.3 L465.7 332.1 L467.7 331.9 L469.8 330.1 L471.8 327.4 L473.8 326.8 L475.8 325.9 L477.8 324.5 L479.8 325.9 L481.8 330.8 L483.8 329.8 L485.5 330.2 L487.2 328.9 L488.9 325.7 L490.5 323.9 L492.2 323.8 L493.9 320.4 L495.9 317.9 L497.9 316.2 L499.9 314.1 L501.9 312.9 L503.9 312.5 L506.0 313.6 L508.0 306.6 L510.0 303.9 L512.0 298.7 L514.0 290.0 L516.0 282.9 L518.0 279.8 L520.0 276.3 L522.0 271.1 L524.1 270.3 L526.1 270.2 L528.1 271.6 L530.1 272.0 L532.1 274.0 L534.1 277.8 L536.1 278.5 L538.1 283.3 L540.1 289.6 L542.2 299.2 L544.2 308.0 L546.2 327.3 L548.2 343.1 L550.2 354.3 L552.2 362.6 L553.7 365.8 L555.2 370.8 L556.7 360.5 L558.3 352.4 L559.8 344.4 L561.3 334.1 L562.8 328.4 L564.3 322.6 L566.3 321.8 L568.3 319.4 L570.3 315.1 L572.3 309.7 L574.3 305.5 L576.4 300.6 L578.4 305.5 L580.4 307.3 L582.7 310.3 L585.0 312.7 L587.0 310.8 L589.0 310.7 L591.0 306.6 L593.0 302.2 L595.1 289.9 L597.1 277.2 L598.6 272.5 L600.1 268.6 L601.6 271.9 L603.1 276.5 L605.1 297.9 L606.6 311.6 L608.1 321.7 L609.6 333.4 L611.1 344.4 L612.7 346.0 L614.2 351.1 L615.7 351.4 L617.2 346.7 L618.7 344.1 L620.2 340.0 L621.7 336.4 L623.2 328.3 L624.7 323.9 L626.2 319.7 L628.2 316.3 L630.3 313.4 L631.9 312.7 L633.6 313.7 L635.3 310.2 L637.3 314.6 L639.3 315.5 L641.3 314.0 L643.3 313.8 L645.3 305.5 L647.3 303.1 L649.4 302.3 L651.4 299.9 L653.4 300.6 L655.4 301.8 L657.4 297.4 L659.4 294.6 L660.9 292.1 L662.4 287.0 L663.9 292.4 L665.5 296.7 L667.5 293.2 L669.5 290.2 L671.0 289.4 L672.5 286.6 L674.0 291.4 L675.5 293.4 L677.0 298.7 L678.5 303.6 L680.5 310.1 L682.5 312.6 L684.1 318.6 L685.6 325.7 L687.1 321.7 L688.6 321.0 L690.1 316.2 L691.6 312.6 L693.1 301.0 L694.6 291.1 L696.1 288.1 L697.6 287.6 L699.1 282.2 L700.6 275.3 L702.2 268.7 L703.7 264.6 L705.7 267.4 L707.2 274.9 L708.7 283.3 L710.7 296.6 L712.2 296.1 L713.7 297.1 L715.2 295.4 L716.7 295.5 L718.2 290.7 L719.8 284.6 L721.8 287.3 L723.8 291.9 L725.8 289.3 L727.8 289.7 L729.8 289.4 L731.8 288.6 L733.8 287.3 L735.8 286.0 L737.9 289.0 L739.9 290.9 L741.9 293.7 L743.9 295.1 L745.9 300.3 L747.9 306.0 L749.4 311.6 L750.9 319.6 L752.4 328.3 L753.9 332.8 L756.0 337.8 L758.0 342.3 L760.0 346.6 L762.0 349.1 L763.5 348.0 L765.0 348.0 L766.5 343.8 L768.0 339.4 L770.0 339.0 L772.0 335.5 L774.1 333.5 L776.1 328.3 L778.1 330.4 L780.1 328.3 L782.1 332.1 L784.1 331.4 L785.6 328.4 L787.1 322.9 L789.1 320.9 L791.2 319.9 L793.2 322.6 L795.2 326.3 L797.2 327.0 L799.2 327.8 L800.9 326.0 L802.6 328.6 L804.2 325.1 L806.2 325.1 L808.3 321.6 L809.9 323.5 L811.6 322.0 L813.3 323.7 L815.0 325.0 L816.6 325.0 L818.3 326.8 L820.0 326.0 L821.7 325.7 L823.3 324.2 L825.0 323.7 L826.7 324.8 L828.4 325.1 L830.4 326.7 L832.4 328.9 L835.0 326.2 L836.5 329.2 L838.0 332.1 L839.5 331.5 L841.0 334.4 L843.0 329.8 L845.1 325.5 L847.1 325.6 L849.1 323.5 L851.1 321.8 L853.1 318.5 L855.1 316.8 L857.1 317.4 L859.1 317.8 L861.1 317.4 L863.2 321.8 L865.2 327.6 L867.2 328.6 L869.2 333.3 L871.2 330.5 L873.2 329.7 L875.2 330.0 L877.2 328.5 L879.2 329.4 L881.3 331.8 L882.8 329.0 L884.3 324.9 L885.8 322.9 L887.3 321.8 L888.8 325.6 L890.3 326.0 L891.8 327.4 L893.3 329.0 L895.3 327.8 L897.3 328.1 L899.4 332.7 L901.4 334.9 L902.9 339.3 L904.4 345.0 L905.9 348.0 L907.4 351.7 L909.1 354.1 L910.8 356.6 L912.4 357.9 L914.1 359.7 L915.8 360.4 L917.5 359.5 L919.5 362.7 L921.5 366.7 L923.0 369.9 L924.5 374.5 L926.0 371.4 L927.5 370.3 L929.5 369.3 L931.5 369.1 L933.6 367.9 L935.6 368.8 L937.6 363.4 L939.6 357.5 L941.6 353.1 L943.6 349.1 L945.6 344.2 L947.6 344.5 L949.6 337.0 L951.7 333.2 L953.7 330.7 L955.7 328.6 L957.7 327.9 L959.7 325.7 L961.7 331.0 L963.7 333.6 L965.7 331.3 L967.7 333.5 L969.8 328.6 L971.8 325.1 L973.8 322.5 L975.8 324.1 L977.8 324.8 L979.8 324.2 L981.8 322.9 L983.8 321.1 L985.3 317.9 L986.9 315.6 L988.9 311.7 L990.9 312.4 L992.5 308.4 L994.2 305.4 L995.9 303.9 L997.9 307.7 L999.9 308.6 L1001.9 307.4 L1003.9 306.9 L1006.0 305.2 L1007.6 305.6 L1009.3 305.5 L1011.0 304.8 L1012.7 306.2 L1014.3 305.6 L1016.0 308.0 L1017.7 310.0 L1019.4 308.1 L1021.0 311.0 L1022.7 310.5 L1024.4 312.9 L1026.1 312.5 L1028.1 312.6 L1030.1 307.9 L1032.1 305.0 L1034.1 302.8 L1036.1 298.8 L1038.1 295.3 L1039.6 294.3 L1041.2 297.0 L1042.7 304.5 L1044.2 308.9 L1045.7 318.3 L1047.2 326.1 L1049.2 331.5 L1051.2 335.6 L1052.7 333.3 L1054.2 329.9 L1055.7 322.7 L1057.2 318.3 L1058.8 311.1 L1060.3 307.7 L1062.3 310.0" stroke="#ff00ff" stroke-width="4.8"/>
<path d="M85.0 341.5 L87.0 342.9 L89.0 339.8 L91.0 346.4 L93.0 350.4 L94.7 352.4 L96.4 355.8 L98.1 358.1 L100.1 355.6 L102.1 350.9 L104.1 348.3 L106.1 343.8 L108.1 341.2 L110.1 337.6 L111.6 338.2 L113.2 333.3 L115.2 334.5 L117.2 337.4 L119.2 332.7 L121.2 329.6 L122.7 330.2 L124.2 325.9 L126.6 339.4 L128.8 319.2 L131.3 308.7 L132.8 309.3 L134.3 307.5 L136.9 313.1 L139.3 322.3 L141.7 311.5 L144.3 307.9 L146.3 315.2 L148.4 328.8 L149.9 335.6 L151.4 341.7 L152.9 349.0 L154.4 351.3 L156.4 347.4 L158.4 344.4 L160.1 344.4 L161.8 343.8 L163.4 343.0 L164.9 338.5 L166.5 336.9 L168.0 332.2 L169.5 323.6 L171.5 322.0 L173.0 323.4 L174.5 321.8 L176.0 321.2 L177.5 320.4 L179.0 321.5 L180.5 320.9 L182.0 323.7 L183.6 329.5 L185.1 325.7 L186.6 322.4 L188.1 320.7 L189.6 321.5 L191.6 318.6 L193.6 318.4 L195.1 316.2 L196.6 315.5 L198.1 313.4 L199.6 310.6 L201.2 312.8 L202.7 316.7 L204.7 325.8 L206.2 333.5 L207.7 338.1 L209.2 341.3 L210.7 343.8 L212.2 345.0 L213.7 347.1 L215.7 357.0 L217.7 341.0 L219.3 336.1 L220.8 328.4 L222.8 331.3 L224.8 331.2 L226.3 338.4 L227.8 343.0 L229.3 356.5 L230.8 368.9 L232.8 355.4 L234.8 347.0 L236.3 353.2 L237.9 359.3 L239.4 367.9 L240.9 371.3 L242.9 358.6 L244.4 353.5 L245.9 349.4 L247.4 353.1 L248.9 353.6 L250.4 348.3 L251.9 346.2 L253.9 347.6 L256.0 349.2 L257.5 347.3 L259.0 343.9 L260.5 341.0 L262.0 343.1 L263.5 345.9 L265.0 349.0 L266.5 353.8 L268.0 359.6 L269.5 363.6 L271.0 367.2 L272.6 370.1 L274.1 372.8 L275.6 369.6 L277.1 365.5 L279.1 347.8 L280.6 346.8 L282.1 345.8 L284.1 347.6 L286.1 349.1 L288.1 351.1 L290.1 352.9 L292.2 348.7 L294.2 344.7 L295.7 344.1 L297.2 343.1 L298.7 340.1 L300.2 339.7 L301.7 345.7 L303.2 348.8 L304.7 354.5 L306.2 357.7 L308.3 371.8 L309.8 374.5 L311.3 376.1 L313.3 376.1 L315.3 374.1 L317.3 374.4 L319.3 369.3 L321.3 366.3 L323.3 361.2 L324.8 358.5 L326.4 353.1 L327.9 340.2 L329.4 331.6 L332.0 312.3 L333.5 316.1 L335.0 319.6 L336.5 312.5 L338.0 303.7 L339.5 300.6 L341.0 294.3 L343.0 292.7 L345.1 293.1 L347.1 295.2 L349.1 293.7 L351.1 293.5 L353.1 292.2 L355.1 291.3 L357.1 291.5 L359.1 291.1 L361.1 294.2 L362.7 296.3 L364.2 299.4 L366.2 294.9 L368.2 293.4 L369.7 292.1 L371.2 290.9 L373.2 292.5 L375.2 291.3 L376.7 288.9 L378.2 288.7 L380.3 287.6 L382.3 287.9 L384.3 287.8 L386.3 289.6 L387.8 293.4 L389.3 293.3 L391.3 293.6 L393.3 296.4 L395.3 280.1 L397.3 272.5 L399.4 284.1 L401.0 311.7 L402.7 307.2 L404.4 305.3 L405.9 309.3 L407.4 313.9 L408.9 313.7 L410.4 312.2 L411.9 318.9 L413.4 325.2 L415.5 327.4 L417.5 325.1 L419.5 321.3 L421.5 313.1 L423.5 305.4 L425.0 302.6 L426.5 300.9 L428.5 308.6 L430.5 322.5 L432.2 322.2 L433.9 323.0 L435.6 323.9 L437.6 326.2 L439.6 327.6 L441.1 323.0 L442.6 319.9 L445.2 341.1 L447.6 350.1 L449.1 345.1 L450.6 342.2 L452.2 342.0 L453.7 340.5 L455.7 337.8 L457.7 338.6 L459.7 335.8 L461.7 332.3 L463.7 328.5 L465.7 325.6 L467.2 320.5 L468.7 314.2 L470.8 313.0 L472.8 311.9 L474.3 314.5 L475.8 314.5 L477.3 308.8 L478.8 305.8 L479.8 300.0 L481.8 310.3 L483.3 318.5 L484.8 327.4 L486.3 333.3 L487.9 341.8 L490.3 346.2 L492.9 336.3 L494.4 330.6 L495.9 326.3 L497.4 324.7 L498.9 323.2 L500.9 326.7 L502.9 326.5 L504.4 328.3 L506.0 328.7 L508.0 319.8 L510.0 309.6 L512.0 306.6 L514.0 301.4 L515.5 294.6 L517.0 286.4 L518.5 277.4 L520.0 266.2 L522.0 263.2 L524.1 262.5 L526.1 261.2 L528.1 262.7 L529.6 269.6 L531.1 277.8 L532.6 280.9 L534.1 285.3 L535.6 291.2 L537.1 297.9 L538.6 309.5 L540.1 316.9 L541.7 329.9 L543.2 344.6 L544.7 352.9 L546.2 362.5 L548.2 378.2 L550.2 384.3 L552.2 366.7 L554.2 354.9 L555.7 351.3 L557.2 352.7 L558.8 343.4 L560.3 336.9 L562.3 329.8 L563.8 340.8 L565.3 351.4 L566.8 346.0 L568.3 342.0 L569.8 330.4 L571.3 317.1 L572.8 309.2 L574.3 303.1 L575.8 298.7 L577.4 299.1 L578.9 297.3 L580.4 295.4 L581.9 297.5 L583.4 301.1 L585.0 307.2 L587.0 305.8 L589.0 303.5 L591.0 308.2 L593.0 313.7 L595.1 288.9 L596.7 270.6 L599.1 268.0 L601.1 264.6 L603.1 277.4 L605.1 306.2 L607.5 332.3 L610.1 349.1 L611.6 356.1 L613.2 364.0 L614.7 356.6 L616.2 352.6 L617.7 353.3 L619.2 350.3 L620.7 350.3 L622.2 348.0 L623.7 347.9 L625.2 344.9 L627.2 326.7 L628.7 320.2 L630.3 317.6 L631.8 316.6 L633.3 312.2 L635.3 311.7 L637.3 312.2 L639.3 311.6 L641.3 312.7 L643.3 311.8 L645.3 310.1 L647.3 309.2 L649.4 309.3 L651.4 307.5 L653.4 307.2 L654.9 306.4 L656.4 304.1 L657.9 303.9 L659.4 303.6 L661.4 287.6 L662.9 290.2 L664.4 298.4 L666.0 296.1 L667.5 292.7 L669.5 289.5 L671.5 284.2 L673.0 288.5 L674.5 293.4 L676.0 298.1 L677.5 304.0 L679.0 310.1 L680.5 314.5 L682.0 320.0 L683.6 322.6 L685.6 326.2 L687.1 322.9 L688.6 320.1 L690.1 313.2 L691.6 306.9 L693.1 300.5 L694.6 293.8 L696.1 295.0 L697.6 297.8 L699.1 290.2 L700.6 280.9 L702.7 261.7 L704.7 269.2 L706.7 289.1 L708.7 300.0 L710.7 321.6 L712.1 331.9 L714.7 310.2 L716.2 299.4 L717.7 288.4 L719.3 283.5 L720.8 279.4 L722.8 295.2 L724.3 299.1 L725.8 301.7 L727.3 301.5 L728.8 303.4 L730.3 299.2 L731.8 295.5 L733.3 291.3 L734.8 286.9 L736.9 288.1 L738.9 287.5 L740.4 288.0 L741.9 294.1 L743.9 295.3 L745.9 293.4 L747.9 300.3 L749.9 305.4 L751.9 323.3 L753.4 327.2 L755.0 332.2 L756.5 333.8 L758.0 334.1 L759.5 345.5 L761.0 351.7 L762.5 347.1 L764.0 340.4 L765.5 336.7 L767.0 331.2 L768.4 318.2 L771.0 333.2 L772.6 334.7 L774.1 337.3 L775.6 335.1 L777.1 335.2 L778.6 339.7 L780.1 345.6 L781.6 350.6 L783.1 352.6 L784.6 346.9 L786.1 346.0 L788.1 332.8 L790.1 329.9 L792.2 325.6 L794.2 326.5 L796.2 330.2 L798.2 330.1 L800.2 328.7 L802.2 332.6 L804.2 332.2 L806.2 331.3 L808.3 330.7 L810.3 329.2 L812.3 325.9 L814.3 324.7 L816.3 323.9 L818.3 325.7 L820.3 326.8 L822.0 326.9 L823.7 326.3 L825.3 327.2 L827.4 325.8 L829.4 327.8 L831.4 329.3 L833.4 332.7 L835.0 330.5 L836.5 331.3 L838.0 338.4 L839.5 337.2 L841.0 337.8 L842.5 334.4 L844.1 328.8 L845.6 328.8 L847.1 327.9 L849.1 325.1 L851.1 322.2 L853.1 322.6 L855.1 319.9 L857.1 317.2 L859.1 319.0 L860.6 321.6 L862.2 326.6 L863.7 330.4 L865.2 335.7 L866.7 339.3 L868.2 341.1 L870.2 337.1 L872.2 335.0 L873.7 335.1 L875.2 337.2 L876.7 338.9 L878.2 341.0 L879.8 334.3 L881.3 332.4 L882.8 330.0 L884.3 330.1 L885.8 325.7 L887.3 320.0 L888.8 320.1 L890.3 317.5 L891.8 319.0 L893.3 317.3 L895.3 322.3 L897.3 329.4 L899.4 335.1 L901.4 338.1 L903.4 342.1 L904.9 346.1 L906.4 347.9 L907.9 353.8 L909.4 354.3 L911.1 355.2 L912.8 356.6 L914.4 356.2 L916.0 359.1 L917.5 363.0 L919.0 366.4 L920.5 369.5 L922.0 369.9 L923.5 369.3 L925.0 367.4 L926.5 364.2 L928.0 367.5 L929.5 369.5 L931.0 367.1 L932.5 365.8 L934.1 369.5 L935.6 371.2 L937.6 365.1 L939.1 364.0 L940.6 367.8 L942.1 360.9 L943.6 361.0 L945.1 352.3 L946.6 347.2 L948.1 347.4 L949.6 343.6 L951.7 330.8 L953.7 328.3 L955.7 323.7 L957.7 326.0 L959.7 326.5 L961.2 330.8 L962.7 332.5 L964.2 332.8 L965.7 331.4 L967.2 334.2 L968.7 336.5 L970.8 338.3 L972.8 334.1 L974.3 335.9 L975.8 337.5 L977.3 333.9 L978.8 330.4 L980.3 333.7 L981.8 335.6 L983.3 334.4 L984.8 331.0 L986.3 324.0 L987.9 316.8 L989.4 310.4 L990.9 303.4 L992.4 301.9 L993.9 299.8 L995.4 299.1 L996.9 295.9 L998.4 297.2 L999.9 299.8 L1001.9 311.8 L1003.9 309.3 L1006.0 307.7 L1007.5 312.8 L1009.0 317.8 L1011.0 314.4 L1013.0 314.7 L1014.5 314.2 L1016.0 316.6 L1017.5 318.4 L1019.0 319.3 L1021.0 319.2 L1023.1 319.3 L1024.6 316.7 L1026.1 317.1 L1027.6 309.0 L1029.1 301.8 L1031.7 290.1 L1034.1 300.3 L1035.6 299.2 L1037.1 301.7 L1038.6 298.2 L1040.1 298.7 L1041.7 300.6 L1043.2 303.2 L1044.7 306.3 L1046.2 314.5 L1047.7 320.1 L1049.2 326.6 L1050.7 327.6 L1052.2 331.2 L1053.7 327.4 L1055.2 327.0 L1056.7 321.8 L1058.3 317.2 L1060.1 314.6 L1061.9 311.1" stroke="#00ffff" stroke-width="4.8"/>
<path d="M85.5 325.15 H1062.0" stroke="#000" stroke-width="1.6" stroke-linecap="butt"/>
<path d="M87.0 333.5 C88.4 332.5 92.4 329.4 95.1 327.5 C97.7 325.7 100.4 323.8 103.1 322.5 C105.8 321.1 108.6 320.1 111.1 319.5 C113.7 318.9 115.8 318.7 118.2 318.9 C120.5 319.0 122.7 319.5 125.2 320.5 C127.7 321.4 130.6 323.3 133.3 324.5 C136.0 325.7 139.0 326.9 141.3 327.5 C143.7 328.1 145.0 328.3 147.3 328.1 C149.7 327.9 152.7 327.2 155.4 326.5 C158.1 325.8 161.1 324.7 163.4 324.1 C165.8 323.5 167.1 322.8 169.5 322.9 C171.8 323.0 174.8 323.8 177.5 324.5 C180.2 325.2 182.9 326.2 185.6 326.9 C188.2 327.6 190.9 328.1 193.6 328.5 C196.3 329.0 199.0 329.5 201.7 329.5 C204.3 329.5 207.0 329.0 209.7 328.5 C212.4 328.1 214.7 327.1 217.7 326.9 C220.8 326.7 225.1 327.9 227.8 327.5 C230.5 327.1 231.5 325.4 233.8 324.5 C236.2 323.6 239.2 322.7 241.9 322.1 C244.6 321.5 247.2 321.0 249.9 320.9 C252.6 320.8 255.3 320.9 258.0 321.5 C260.7 322.1 263.3 323.2 266.0 324.5 C268.7 325.8 271.5 328.1 274.1 329.5 C276.6 330.9 278.9 332.2 281.1 332.9 C283.3 333.7 285.3 334.0 287.1 333.9 C289.0 333.9 290.3 333.3 292.2 332.5 C294.0 331.8 295.8 330.7 298.2 329.5 C300.5 328.4 303.9 327.3 306.2 325.5 C308.6 323.7 310.3 321.0 312.3 318.5 C314.3 316.0 316.3 312.8 318.3 310.4 C320.3 308.1 322.5 305.8 324.3 304.4 C326.2 303.0 327.6 302.1 329.4 302.0 C331.1 301.8 332.7 302.5 335.0 303.4 C337.3 304.3 340.4 306.1 343.0 307.4 C345.7 308.7 348.4 310.3 351.1 311.4 C353.8 312.6 356.5 313.4 359.1 314.4 C361.8 315.4 364.5 316.5 367.2 317.5 C369.9 318.5 372.5 319.6 375.2 320.5 C377.9 321.3 380.6 322.3 383.3 322.5 C386.0 322.7 388.6 321.9 391.3 321.5 C394.0 321.0 396.3 320.4 399.4 319.9 C402.4 319.3 406.1 318.3 409.4 318.1 C412.8 317.8 416.5 318.4 419.5 318.5 C422.5 318.5 424.8 318.2 427.5 318.5 C430.2 318.7 432.9 319.1 435.6 320.1 C438.2 321.0 440.9 322.7 443.6 324.1 C446.3 325.5 449.0 327.5 451.7 328.5 C454.3 329.5 457.0 330.1 459.7 330.1 C462.4 330.1 465.1 329.6 467.7 328.5 C470.4 327.4 473.1 325.3 475.8 323.5 C478.5 321.6 481.2 319.1 483.8 317.5 C486.5 315.8 489.2 314.6 491.9 313.4 C494.6 312.3 496.9 311.2 499.9 310.4 C502.9 309.7 506.6 309.2 510.0 308.8 C513.3 308.4 517.0 308.0 520.0 308.0 C523.1 308.0 525.4 308.2 528.1 308.8 C530.8 309.4 533.4 310.3 536.1 311.4 C538.8 312.5 541.7 314.5 544.2 315.4 C546.7 316.4 548.9 316.9 551.2 316.9 C553.6 316.9 555.7 316.4 558.3 315.4 C560.8 314.5 563.6 313.1 566.3 311.4 C569.0 309.8 571.2 307.2 574.3 305.4 C577.5 303.6 582.2 301.8 585.0 300.8 C587.8 299.8 589.0 299.7 591.0 299.4 C593.0 299.1 595.1 298.7 597.1 299.0 C599.1 299.2 600.8 299.9 603.1 300.8 C605.4 301.6 608.6 303.3 611.1 304.0 C613.7 304.7 615.8 305.0 618.2 304.8 C620.5 304.6 622.9 303.9 625.2 302.8 C627.6 301.7 630.1 300.3 632.3 298.4 C634.4 296.4 636.3 294.2 638.3 291.3 C640.3 288.5 642.3 284.8 644.3 281.3 C646.3 277.8 648.4 273.4 650.4 270.2 C652.4 267.0 654.4 264.0 656.4 262.2 C658.4 260.3 660.6 259.6 662.4 259.2 C664.3 258.7 665.6 258.9 667.5 259.6 C669.3 260.2 671.5 261.7 673.5 263.2 C675.5 264.6 677.5 266.5 679.5 268.2 C681.5 269.9 683.6 271.8 685.6 273.2 C687.6 274.6 689.6 276.1 691.6 276.6 C693.6 277.1 695.6 276.7 697.6 276.2 C699.6 275.8 701.7 274.8 703.7 273.8 C705.7 272.8 707.7 271.1 709.7 270.2 C711.7 269.3 713.7 268.8 715.7 268.6 C717.7 268.4 719.8 268.6 721.8 269.2 C723.8 269.8 725.8 270.9 727.8 272.2 C729.8 273.6 731.8 275.3 733.8 277.2 C735.8 279.2 737.9 281.5 739.9 283.9 C741.9 286.2 743.9 288.9 745.9 291.3 C747.9 293.7 749.9 296.0 751.9 298.4 C753.9 300.7 756.0 303.2 758.0 305.4 C760.0 307.6 762.0 309.6 764.0 311.4 C766.0 313.3 768.0 314.6 770.0 316.5 C772.0 318.3 774.1 320.8 776.1 322.5 C778.1 324.2 780.1 325.6 782.1 326.5 C784.1 327.4 786.1 328.0 788.1 328.1 C790.1 328.2 792.2 327.7 794.2 326.9 C796.2 326.1 798.2 324.7 800.2 323.5 C802.2 322.3 804.2 320.8 806.2 319.5 C808.3 318.1 810.3 316.6 812.3 315.4 C814.3 314.3 816.5 313.4 818.3 312.8 C820.2 312.3 821.7 311.9 823.3 312.0 C825.0 312.1 826.4 312.4 828.4 313.4 C830.3 314.5 832.9 316.3 835.0 318.5 C837.1 320.6 839.0 324.5 841.0 326.5 C843.0 328.5 845.1 329.6 847.1 330.5 C849.1 331.5 851.1 331.5 853.1 332.1 C855.1 332.8 857.1 333.3 859.1 334.6 C861.1 335.8 863.2 337.9 865.2 339.6 C867.2 341.3 869.2 342.9 871.2 344.6 C873.2 346.3 875.2 348.1 877.2 349.6 C879.2 351.1 881.3 352.6 883.3 353.7 C885.3 354.7 887.3 355.1 889.3 355.7 C891.3 356.2 893.3 356.8 895.3 357.1 C897.3 357.3 899.4 357.5 901.4 357.1 C903.4 356.6 905.4 354.9 907.4 354.3 C909.4 353.6 911.4 353.4 913.4 353.0 C915.5 352.7 917.5 352.8 919.5 352.2 C921.5 351.7 923.5 350.6 925.5 349.6 C927.5 348.6 929.5 347.6 931.5 346.2 C933.6 344.9 935.6 343.2 937.6 341.6 C939.6 340.0 941.6 338.4 943.6 336.6 C945.6 334.7 947.6 332.5 949.6 330.5 C951.7 328.5 953.7 326.3 955.7 324.5 C957.7 322.7 959.7 321.0 961.7 319.5 C963.7 318.0 965.7 317.0 967.7 315.4 C969.8 313.9 971.8 311.8 973.8 310.4 C975.8 309.1 977.8 308.1 979.8 307.4 C981.8 306.7 983.5 306.7 985.8 306.4 C988.2 306.1 991.2 306.0 993.9 305.8 C996.6 305.6 999.3 305.3 1001.9 305.4 C1004.6 305.5 1007.6 305.8 1010.0 306.4 C1012.3 307.0 1014.0 307.8 1016.0 308.8 C1018.0 309.8 1020.0 311.0 1022.0 312.4 C1024.1 313.9 1026.1 316.1 1028.1 317.5 C1030.1 318.8 1032.1 319.9 1034.1 320.5 C1036.1 321.0 1038.1 321.0 1040.1 320.9 C1042.2 320.7 1044.2 320.4 1046.2 319.5 C1048.2 318.6 1050.4 316.6 1052.2 315.4 C1054.1 314.3 1055.7 313.1 1057.2 312.4 C1058.8 311.8 1060.6 311.6 1061.3 311.4" stroke="#ff0000" stroke-width="4.7"/>
</g>
<text transform="translate(1024.00,397.10) scale(1,1.040)" text-anchor="start" font-size="32.00" fill="#000" font-family="Liberation Sans, sans-serif">No.944</text>
<path d="M1121.3 230.78 V420.33 M1121.3 231.50 h-11.5 M1121.3 278.52 h-11.5 M1121.3 325.55 h-11.5 M1121.3 372.58 h-11.5 M1121.3 419.60 h-11.5" stroke="#ff0000" fill="none" stroke-width="1.45"/>
<text transform="translate(70.70,244.10) scale(1,1.040)" text-anchor="end" font-size="32.00" fill="#0000ff" font-family="Liberation Sans, sans-serif">4</text>
<text transform="translate(1134.15,244.10) scale(1,1.040)" text-anchor="start" font-size="32.00" fill="#ff0000" font-family="Liberation Sans, sans-serif">0.8</text>
<text transform="translate(70.70,291.12) scale(1,1.040)" text-anchor="end" font-size="32.00" fill="#0000ff" font-family="Liberation Sans, sans-serif">2</text>
<text transform="translate(1134.15,291.12) scale(1,1.040)" text-anchor="start" font-size="32.00" fill="#ff0000" font-family="Liberation Sans, sans-serif">0.4</text>
<text transform="translate(70.70,338.15) scale(1,1.040)" text-anchor="end" font-size="32.00" fill="#0000ff" font-family="Liberation Sans, sans-serif">0</text>
<text transform="translate(1134.15,338.15) scale(1,1.040)" text-anchor="start" font-size="32.00" fill="#ff0000" font-family="Liberation Sans, sans-serif">0</text>
<text transform="translate(70.70,385.18) scale(1,1.040)" text-anchor="end" font-size="32.00" fill="#0000ff" font-family="Liberation Sans, sans-serif">-2</text>
<text transform="translate(1134.15,385.18) scale(1,1.040)" text-anchor="start" font-size="32.00" fill="#ff0000" font-family="Liberation Sans, sans-serif">-0.4</text>
<text transform="translate(70.70,432.20) scale(1,1.040)" text-anchor="end" font-size="32.00" fill="#0000ff" font-family="Liberation Sans, sans-serif">-4</text>
<text transform="translate(1134.15,432.20) scale(1,1.040)" text-anchor="start" font-size="32.00" fill="#ff0000" font-family="Liberation Sans, sans-serif">-0.8</text>
<g fill="none" stroke-width="1.45" stroke-linecap="butt">
<path d="M85.5 451.10 H1121.3 M85.5 639.60 H1121.3 M110.0 451.10 v11.5 M110.0 639.60 v-11.5 M187.8 451.10 v11.5 M187.8 639.60 v-11.5 M265.5 451.10 v11.5 M265.5 639.60 v-11.5 M343.3 451.10 v11.5 M343.3 639.60 v-11.5 M421.1 451.10 v11.5 M421.1 639.60 v-11.5 M498.8 451.10 v11.5 M498.8 639.60 v-11.5 M576.6 451.10 v11.5 M576.6 639.60 v-11.5 M654.4 451.10 v11.5 M654.4 639.60 v-11.5 M732.2 451.10 v11.5 M732.2 639.60 v-11.5 M809.9 451.10 v11.5 M809.9 639.60 v-11.5 M887.7 451.10 v11.5 M887.7 639.60 v-11.5 M965.5 451.10 v11.5 M965.5 639.60 v-11.5 M1043.2 451.10 v11.5 M1043.2 639.60 v-11.5" stroke="#000"/>
<path d="M85.5 450.38 V640.33 M85.5 451.10 h11.5 M85.5 498.23 h11.5 M85.5 545.35 h11.5 M85.5 592.48 h11.5 M85.5 639.60 h11.5" stroke="#0000ff"/>
</g>
<clipPath id="c2"><rect x="85.5" y="450.38" width="1035.8" height="189.95"/></clipPath>
<g clip-path="url(#c2)" fill="none" stroke-linejoin="round" stroke-linecap="butt">
<path d="M85.0 526.4 L87.0 525.0 L89.0 526.8 L91.0 527.4 L93.0 530.9 L95.1 529.6 L97.1 529.7 L99.1 527.9 L101.1 526.8 L103.1 520.1 L105.1 514.6 L107.1 506.2 L109.1 496.3 L110.6 487.3 L112.2 473.1 L114.8 463.0 L117.2 470.5 L118.7 484.0 L120.2 494.8 L121.7 499.4 L123.2 505.0 L124.7 504.6 L126.2 508.1 L127.7 500.1 L129.2 498.4 L130.8 500.3 L132.3 504.9 L134.3 515.8 L135.8 514.0 L137.3 512.0 L138.8 512.6 L140.3 514.9 L141.8 512.8 L143.3 509.5 L144.8 512.3 L146.3 515.3 L147.9 518.0 L149.4 518.9 L151.0 522.2 L152.7 521.5 L154.4 523.7 L156.1 527.5 L157.7 525.9 L159.4 526.2 L161.1 529.6 L162.8 530.0 L164.4 532.6 L166.1 531.2 L167.8 534.3 L169.5 536.4 L171.5 540.0 L173.5 540.2 L175.5 545.0 L177.5 549.1 L179.5 546.0 L181.5 548.8 L183.6 550.1 L185.6 553.0 L187.6 556.6 L189.6 560.9 L191.6 561.3 L193.6 562.7 L195.3 564.0 L197.0 565.9 L198.6 567.4 L200.3 565.7 L202.0 565.1 L203.7 561.7 L205.7 560.7 L207.7 560.3 L209.7 559.5 L211.4 557.4 L213.1 558.2 L214.7 555.9 L216.4 552.8 L218.1 552.0 L219.8 552.2 L221.4 550.5 L223.1 548.3 L224.8 549.3 L226.8 544.9 L228.8 538.1 L230.3 535.1 L231.8 530.0 L233.3 531.0 L234.8 529.6 L236.3 536.5 L237.9 539.7 L239.9 544.3 L241.9 547.3 L243.9 548.6 L245.9 546.7 L247.9 546.0 L249.9 545.8 L251.9 544.3 L253.9 542.1 L256.0 545.2 L258.0 541.9 L259.6 545.4 L261.3 547.1 L263.0 546.2 L264.7 546.5 L266.3 548.4 L268.0 550.5 L270.0 551.7 L272.0 553.6 L274.1 554.9 L275.7 554.8 L277.4 556.7 L279.1 557.9 L281.1 556.8 L283.1 554.4 L285.1 551.2 L287.1 549.7 L289.1 549.9 L291.2 551.7 L293.2 549.4 L295.2 545.5 L297.2 543.1 L299.2 537.8 L301.2 537.2 L303.2 535.6 L305.2 536.7 L307.2 537.9 L309.3 538.6 L311.3 537.7 L313.3 540.1 L315.3 540.2 L316.8 544.2 L318.3 547.5 L319.8 557.4 L321.3 565.5 L322.8 573.3 L324.3 584.7 L325.8 590.5 L327.4 595.1 L329.4 581.5 L331.4 560.3 L333.4 542.8 L335.0 540.1 L337.0 538.5 L339.0 535.1 L341.0 531.6 L343.0 529.2 L344.6 530.4 L346.1 528.5 L347.6 528.9 L349.1 533.1 L351.1 537.1 L353.1 538.3 L355.1 539.2 L357.1 541.3 L359.1 538.5 L361.1 536.9 L363.2 535.0 L365.2 536.4 L367.2 538.1 L369.2 539.5 L371.2 538.9 L373.2 537.0 L375.2 536.2 L377.2 531.4 L379.2 532.6 L381.3 533.7 L383.3 535.4 L385.3 535.4 L387.3 532.9 L389.3 529.0 L391.3 528.1 L393.3 525.9 L395.3 526.7 L397.3 528.9 L398.9 523.7 L400.4 517.7 L401.9 517.8 L403.4 513.2 L405.4 521.8 L406.9 526.2 L408.4 528.4 L410.4 539.5 L411.9 542.1 L413.4 546.2 L415.5 548.5 L417.5 547.7 L419.5 550.9 L421.5 553.1 L423.0 557.2 L424.5 561.0 L426.0 558.6 L427.5 555.2 L429.0 551.1 L430.5 546.9 L432.0 549.0 L433.6 553.5 L435.6 568.6 L437.6 576.9 L439.1 577.8 L440.6 577.4 L442.6 575.6 L444.6 578.1 L446.6 578.5 L448.6 581.3 L450.1 584.3 L451.7 587.9 L453.7 598.8 L455.7 603.4 L457.7 593.9 L459.2 586.8 L460.7 582.4 L462.2 577.3 L463.7 574.5 L465.7 570.1 L467.2 570.5 L468.7 576.0 L470.3 569.1 L471.8 563.6 L473.3 559.0 L474.8 550.6 L476.3 549.1 L477.8 542.5 L479.3 537.4 L480.8 533.8 L482.3 525.8 L483.8 516.3 L485.8 508.9 L487.4 509.9 L488.9 513.3 L490.4 520.3 L491.9 525.3 L493.9 527.2 L495.9 527.4 L497.9 531.7 L499.9 530.5 L501.6 533.4 L503.3 531.0 L505.0 534.8 L506.5 535.6 L508.0 539.6 L510.0 539.4 L512.0 538.8 L513.5 544.7 L515.0 548.6 L517.0 548.8 L519.0 554.4 L520.5 545.4 L522.0 540.2 L523.6 534.7 L525.1 528.4 L527.1 523.1 L529.1 516.1 L531.1 511.6 L533.1 508.7 L535.1 505.4 L537.1 504.1 L538.6 503.5 L540.1 507.6 L541.7 511.0 L543.2 516.4 L544.7 519.7 L546.2 527.7 L548.2 528.6 L550.2 532.7 L552.2 537.9 L554.2 541.6 L556.2 543.7 L558.3 545.9 L560.3 541.7 L562.3 541.0 L564.3 533.9 L566.3 528.6 L568.3 523.7 L570.3 517.7 L572.3 514.1 L574.3 509.2 L576.4 509.2 L578.4 508.2 L580.4 510.1 L582.4 511.9 L585.0 516.0 L587.0 516.3 L589.0 514.8 L591.0 513.5 L593.0 512.4 L595.1 509.3 L597.1 506.6 L598.6 509.7 L600.1 509.7 L601.6 512.5 L603.1 518.0 L604.6 520.4 L606.1 526.1 L608.1 527.7 L610.1 531.3 L611.8 530.2 L613.5 533.7 L615.2 533.6 L617.2 534.4 L619.2 530.8 L621.2 527.4 L623.2 526.1 L625.2 522.8 L627.2 515.9 L628.7 521.0 L630.3 519.4 L631.8 526.8 L633.3 530.4 L634.8 534.0 L636.3 533.6 L637.8 530.3 L639.3 526.8 L641.3 523.6 L643.3 518.8 L644.8 513.1 L646.3 505.5 L647.9 499.3 L649.4 498.9 L650.9 501.1 L652.4 507.9 L654.4 522.1 L655.9 525.2 L657.4 533.2 L659.4 536.1 L661.4 538.2 L663.4 539.5 L665.5 537.9 L667.5 539.5 L669.5 539.8 L671.5 542.3 L673.5 545.6 L675.5 547.3 L677.5 548.6 L679.5 548.2 L681.5 550.3 L683.6 549.4 L685.6 549.3 L687.6 547.4 L689.6 545.3 L691.6 544.7 L693.6 540.7 L695.6 541.3 L697.6 540.7 L699.6 536.6 L701.7 534.8 L703.2 534.7 L704.7 534.2 L706.2 537.0 L707.7 539.2 L709.7 537.4 L711.7 538.7 L713.7 533.0 L715.7 528.7 L717.2 528.9 L718.7 532.4 L720.3 538.0 L721.8 540.4 L723.8 541.1 L725.8 542.4 L727.8 541.0 L729.8 535.5 L731.8 533.0 L733.8 529.6 L735.8 533.0 L737.9 532.1 L739.9 536.1 L741.9 538.3 L743.9 539.5 L745.9 540.1 L747.4 539.8 L748.9 536.2 L750.9 527.3 L752.4 529.2 L753.9 534.4 L756.0 536.0 L758.0 540.0 L760.0 538.7 L762.0 539.0 L764.0 543.0 L766.0 545.1 L767.5 552.6 L769.0 557.9 L771.6 575.8 L774.1 603.0 L776.3 649.2 L777.7 649.9 L780.1 610.7 L782.5 581.5 L784.3 574.7 L786.1 570.7 L788.1 566.0 L790.1 562.4 L792.2 559.3 L794.2 560.3 L796.2 556.1 L798.2 554.6 L800.2 555.4 L802.2 555.8 L804.2 554.0 L806.2 551.4 L808.3 552.8 L810.3 554.9 L812.3 551.7 L814.3 552.3 L816.3 556.8 L818.3 557.6 L820.3 560.0 L822.3 562.2 L824.3 561.3 L826.4 558.2 L828.4 562.7 L830.4 566.7 L832.7 569.6 L835.0 575.4 L836.5 576.3 L838.0 580.0 L839.5 575.6 L841.0 572.3 L842.5 567.9 L844.1 564.6 L846.1 561.1 L848.1 558.7 L849.6 554.7 L851.1 550.8 L852.6 547.7 L854.1 547.5 L855.6 550.5 L857.1 549.4 L859.1 551.8 L861.1 556.8 L863.2 557.4 L865.2 555.5 L867.2 556.3 L869.2 559.7 L870.7 559.5 L872.2 557.9 L873.7 560.6 L875.2 560.2 L876.7 561.9 L878.2 559.9 L879.8 566.9 L881.3 568.7 L882.8 577.0 L884.3 582.7 L886.3 594.4 L888.3 600.3 L889.8 596.8 L891.3 590.5 L892.8 582.7 L894.3 573.7 L896.3 569.3 L898.4 564.7 L900.4 563.7 L902.4 560.3 L904.1 560.2 L905.7 560.4 L907.4 559.5 L909.1 557.6 L910.8 556.4 L912.4 556.3 L914.4 555.7 L916.5 557.6 L918.5 555.2 L920.5 550.4 L922.5 552.7 L924.5 549.9 L926.5 551.2 L928.5 548.4 L930.5 546.8 L932.5 546.2 L934.6 546.4 L936.6 547.3 L938.6 545.5 L940.6 545.0 L942.6 543.5 L944.6 543.2 L946.6 548.3 L948.6 546.6 L950.6 549.1 L952.7 552.3 L954.7 554.7 L956.7 555.3 L958.7 555.0 L960.7 553.8 L962.7 551.9 L964.7 554.5 L966.7 552.9 L968.7 554.8 L970.8 554.5 L972.8 556.9 L974.8 553.6 L976.8 554.1 L978.3 553.9 L979.8 549.9 L981.3 546.6 L982.8 542.8 L984.8 558.7 L986.3 567.6 L987.9 575.5 L989.4 583.1 L990.9 592.3 L992.4 595.4 L993.9 597.0 L995.9 600.3 L997.4 598.5 L998.9 594.4 L1000.4 589.0 L1001.9 584.2 L1003.4 580.3 L1005.0 573.6 L1007.0 568.8 L1009.0 564.3 L1011.0 560.1 L1013.0 561.9 L1015.0 560.5 L1017.0 559.4 L1019.0 556.1 L1021.0 554.5 L1023.1 550.7 L1025.1 550.6 L1027.1 545.4 L1029.1 543.5 L1031.1 545.4 L1033.1 545.6 L1034.6 546.1 L1036.1 543.0 L1038.1 529.2 L1040.1 515.8 L1042.2 514.0 L1044.2 523.5 L1046.2 539.2 L1048.2 545.1 L1049.7 546.7 L1051.2 548.7 L1052.7 547.0 L1054.2 548.7" stroke="#0000ff" stroke-width="4.8"/>
<path d="M85.0 538.0 L87.0 540.0 L89.0 541.2 L91.0 542.2 L93.0 541.9 L95.1 543.3 L97.1 543.1 L99.1 540.8 L101.1 539.8 L103.1 533.3 L105.1 529.3 L107.1 520.5 L109.1 509.1 L110.6 500.9 L112.2 492.7 L114.8 488.0 L117.2 491.6 L118.7 497.8 L120.2 500.7 L122.2 507.1 L124.2 512.8 L126.2 516.3 L128.2 522.0 L130.3 528.1 L132.3 534.9 L134.3 527.7 L136.3 524.0 L138.3 522.0 L140.3 519.2 L142.3 514.4 L144.3 509.1 L145.8 510.4 L147.3 507.1 L148.9 511.6 L150.4 513.1 L152.4 517.9 L154.4 519.1 L156.1 521.8 L157.7 520.7 L159.4 524.0 L161.1 525.6 L162.8 526.1 L164.4 526.2 L166.5 531.5 L168.5 532.3 L170.0 542.6 L171.5 549.9 L173.0 545.8 L174.5 544.0 L176.0 539.7 L177.5 537.2 L179.0 539.4 L180.5 540.3 L182.5 547.4 L184.6 553.3 L186.6 559.6 L188.6 564.3 L190.6 564.5 L192.6 566.8 L194.3 563.6 L196.0 562.3 L197.6 560.4 L199.3 558.4 L201.0 557.5 L202.7 558.0 L204.3 556.0 L206.0 555.5 L207.7 556.1 L209.4 556.4 L211.0 558.0 L212.7 560.0 L214.4 562.8 L216.1 562.5 L217.7 565.3 L219.8 562.7 L221.8 558.9 L223.8 550.9 L225.8 545.6 L227.8 534.2 L229.8 525.8 L231.3 523.2 L232.8 520.8 L234.3 522.4 L235.8 522.3 L237.4 529.1 L238.9 533.2 L240.9 538.0 L242.9 544.1 L244.9 548.8 L246.9 553.1 L248.9 550.7 L250.9 552.3 L252.6 550.9 L254.3 549.2 L256.0 544.3 L258.0 546.5 L260.0 543.6 L261.7 547.4 L263.3 548.5 L265.0 550.5 L266.7 550.5 L268.4 551.7 L270.0 553.1 L272.0 555.1 L274.1 559.6 L276.1 563.7 L278.1 568.8 L280.1 566.6 L282.1 566.5 L284.1 558.3 L286.1 549.8 L288.1 541.9 L290.1 535.8 L292.2 530.4 L294.2 529.6 L296.2 527.2 L298.2 525.0 L300.2 527.1 L302.2 527.8 L304.2 527.9 L306.2 526.8 L308.3 526.9 L310.3 529.6 L312.3 532.7 L314.3 537.1 L316.3 540.2 L318.3 546.5 L319.8 553.9 L321.3 562.9 L322.8 567.4 L324.3 574.8 L325.8 576.3 L327.4 578.6 L329.4 572.3 L331.4 561.1 L333.4 552.5 L335.0 545.6 L337.0 542.7 L339.0 537.5 L341.0 534.2 L343.0 531.9 L345.1 530.5 L347.1 525.7 L349.1 532.4 L351.1 536.4 L353.1 539.3 L355.1 543.9 L356.6 544.9 L358.1 547.5 L359.6 543.3 L361.1 538.6 L363.2 538.4 L365.2 537.7 L367.2 536.1 L369.2 535.5 L371.2 534.9 L373.2 535.1 L375.2 533.9 L377.2 531.9 L379.2 530.7 L381.3 533.9 L383.3 534.2 L385.3 531.9 L387.3 532.7 L389.3 529.7 L391.3 529.0 L393.3 529.0 L395.3 529.7 L397.3 531.6 L399.4 523.3 L401.4 516.3 L402.9 518.6 L404.4 520.9 L405.9 527.2 L407.4 535.5 L408.9 535.5 L410.4 536.5 L411.9 540.4 L413.4 545.6 L415.5 549.8 L417.5 551.8 L419.5 554.5 L421.5 558.5 L423.5 562.6 L425.5 562.8 L427.0 558.1 L428.5 549.4 L430.0 546.3 L431.5 541.0 L433.0 544.3 L434.6 550.1 L436.1 558.2 L437.6 567.8 L439.6 571.1 L441.6 575.2 L443.6 581.1 L445.6 581.7 L447.6 586.5 L449.6 588.2 L451.2 595.5 L452.7 599.2 L454.2 599.9 L455.7 599.8 L457.2 596.4 L458.7 590.1 L460.2 584.4 L461.7 578.8 L463.7 579.2 L465.7 574.0 L467.7 576.3 L469.8 579.5 L471.8 573.3 L473.8 570.0 L475.8 560.3 L477.8 552.2 L479.8 544.4 L481.8 536.1 L483.8 534.2 L485.8 530.9 L487.9 519.3 L489.9 507.1 L491.4 505.7 L492.9 506.6 L494.4 508.1 L495.9 511.2 L497.4 522.8 L498.9 528.9 L500.9 534.7 L502.9 539.7 L505.0 541.9 L507.0 549.6 L509.0 550.0 L511.0 550.3 L513.0 552.4 L515.0 556.2 L517.0 553.7 L519.0 555.0 L520.5 545.9 L522.0 537.8 L524.1 523.8 L526.1 508.8 L527.6 498.5 L529.1 485.9 L531.1 478.3 L533.1 495.0 L534.6 494.8 L536.1 497.6 L537.6 500.3 L539.1 499.6 L541.2 506.7 L543.2 511.6 L545.2 516.5 L547.2 527.1 L549.2 531.6 L551.2 536.6 L553.2 540.4 L555.2 545.1 L557.2 546.8 L559.3 548.9 L561.3 551.1 L563.3 550.0 L564.8 539.8 L566.3 528.9 L567.8 519.9 L569.3 508.2 L570.8 509.3 L572.3 505.7 L574.3 506.6 L576.4 508.7 L578.4 510.0 L580.4 510.0 L582.7 511.8 L585.0 516.8 L587.0 515.4 L589.0 512.7 L591.0 514.7 L593.0 512.8 L594.6 516.8 L596.1 518.6 L597.6 520.9 L599.1 519.1 L601.5 530.6 L603.5 548.6 L605.1 535.6 L606.6 533.3 L608.1 528.2 L610.1 530.1 L612.2 530.1 L614.2 536.6 L616.2 542.5 L618.2 539.7 L620.2 535.5 L622.2 526.4 L624.2 520.5 L626.2 517.8 L628.2 513.1 L630.3 514.4 L632.3 515.6 L633.9 515.1 L635.6 513.1 L637.3 513.9 L638.8 517.7 L640.3 523.7 L642.3 517.4 L644.3 509.7 L646.3 501.7 L648.4 493.5 L649.9 495.3 L651.4 501.4 L652.9 511.5 L654.4 519.0 L656.4 524.7 L658.4 528.6 L660.4 528.5 L662.4 532.4 L664.4 533.4 L666.5 534.2 L668.5 535.8 L670.5 538.9 L672.5 540.6 L674.5 543.5 L676.5 547.1 L678.5 551.7 L680.5 553.4 L682.5 554.2 L684.1 555.7 L685.6 557.0 L687.1 551.8 L688.6 546.2 L690.6 546.2 L692.6 539.9 L694.6 538.7 L696.6 538.6 L698.6 533.3 L700.6 529.3 L702.7 527.3 L704.7 520.6 L706.2 525.8 L707.7 532.6 L709.2 530.1 L710.7 529.4 L712.2 523.9 L713.7 518.8 L715.2 521.1 L716.7 525.6 L718.2 534.9 L719.8 544.1 L721.8 554.6 L723.3 546.7 L724.8 539.7 L726.8 536.0 L728.8 527.7 L730.8 528.5 L732.8 528.2 L734.8 528.0 L736.9 529.2 L738.9 532.9 L740.9 534.1 L742.5 534.4 L744.2 536.8 L745.9 537.6 L747.9 534.7 L749.9 534.3 L751.9 535.0 L753.9 535.7 L756.0 538.0 L758.0 542.8 L760.0 539.4 L762.0 541.6 L764.0 547.0 L766.0 555.5 L767.5 567.0 L769.0 579.8 L771.4 610.9 L773.0 629.8 L774.5 646.1 L776.5 648.0 L778.3 627.8 L780.1 606.3 L781.9 592.8 L783.7 580.0 L785.4 574.7 L787.1 569.7 L789.1 567.3 L791.2 560.3 L793.2 557.6 L795.2 555.9 L796.9 557.2 L798.5 554.6 L800.2 556.7 L802.2 553.8 L804.2 553.9 L806.2 555.5 L808.3 554.6 L810.3 554.3 L812.3 557.8 L814.3 560.3 L816.3 562.7 L818.3 563.9 L820.3 563.3 L822.3 564.8 L824.3 563.9 L826.4 565.2 L828.4 566.9 L830.6 566.9 L832.8 568.5 L835.0 567.4 L837.0 567.0 L839.0 567.9 L841.0 565.9 L843.0 561.7 L845.1 555.8 L847.1 552.7 L849.1 552.1 L851.1 546.6 L852.6 547.0 L854.1 542.8 L855.6 544.3 L857.1 546.2 L859.1 550.8 L861.1 553.9 L863.2 555.3 L865.2 555.1 L867.2 559.3 L869.2 563.5 L871.2 564.7 L873.2 566.2 L875.2 565.4 L877.2 566.2 L878.7 571.3 L880.3 574.5 L881.8 582.9 L883.3 591.4 L885.3 606.4 L887.7 612.8 L890.3 605.5 L891.8 596.3 L893.3 588.8 L894.8 582.5 L896.3 579.6 L898.4 575.1 L900.4 570.9 L902.4 569.1 L904.4 565.7 L906.4 566.2 L908.4 563.8 L910.4 563.0 L912.4 562.2 L914.4 561.7 L916.5 558.1 L918.5 555.3 L920.5 549.9 L922.5 550.2 L924.5 547.6 L926.5 543.6 L928.5 542.2 L930.5 541.2 L932.5 540.6 L934.6 539.9 L936.6 540.4 L938.1 541.0 L939.6 540.2 L941.6 542.2 L943.6 545.1 L945.6 544.6 L947.6 546.4 L949.6 548.3 L951.7 549.8 L953.7 550.7 L955.7 551.8 L957.7 550.3 L959.7 550.8 L961.7 551.2 L963.7 550.7 L965.7 552.9 L967.7 551.5 L969.8 553.7 L971.8 553.9 L973.8 554.4 L975.8 551.1 L977.8 549.5 L979.8 544.4 L981.8 540.0 L983.8 536.3 L985.8 545.4 L987.9 561.5 L989.4 571.6 L990.9 579.8 L992.4 584.4 L993.9 588.2 L995.4 588.4 L996.9 590.9 L998.4 585.8 L999.9 581.2 L1001.4 579.1 L1002.9 576.0 L1005.0 572.5 L1007.0 571.5 L1009.0 566.6 L1011.0 563.7 L1013.0 565.8 L1015.0 561.3 L1017.0 560.0 L1019.0 560.8 L1021.0 558.0 L1023.1 552.4 L1025.1 551.2 L1027.1 546.7 L1029.1 545.2 L1031.1 543.9 L1033.1 543.8 L1035.1 543.9 L1036.6 539.9 L1038.1 538.7 L1039.6 537.7 L1041.2 537.2 L1042.7 538.4 L1044.2 539.9 L1045.7 542.5 L1047.2 547.9 L1048.7 548.4 L1050.2 548.3 L1051.7 549.8 L1053.2 547.4" stroke="#ff00ff" stroke-width="4.8"/>
<path d="M85.0 544.2 L86.5 545.9 L88.0 546.7 L89.5 551.6 L91.0 555.7 L92.5 559.0 L94.1 560.3 L96.1 559.1 L98.1 557.4 L100.1 551.7 L102.1 544.0 L103.6 538.3 L105.1 529.1 L106.6 521.1 L108.1 513.3 L109.6 508.9 L111.1 505.3 L113.2 506.0 L115.2 503.9 L116.7 508.0 L118.2 508.4 L119.7 510.3 L121.2 512.6 L122.7 522.2 L124.2 531.8 L125.7 539.7 L127.2 548.2 L128.7 546.1 L130.3 550.1 L132.9 560.6 L134.7 568.5 L136.3 550.6 L138.3 529.7 L139.8 526.2 L141.3 519.3 L142.8 513.6 L144.3 506.4 L146.3 506.4 L148.4 505.0 L150.4 507.9 L152.4 508.5 L153.9 514.4 L155.4 520.0 L157.4 518.3 L159.4 520.5 L161.4 525.7 L163.4 534.3 L164.9 540.4 L166.5 545.7 L168.0 551.3 L169.5 559.5 L171.9 561.1 L174.5 542.3 L176.5 525.4 L179.1 521.6 L181.5 527.3 L183.0 534.6 L184.6 539.2 L186.1 547.4 L187.6 552.6 L189.1 561.0 L190.6 566.6 L192.1 565.8 L193.6 565.0 L196.0 550.6 L198.6 557.1 L200.1 556.1 L201.7 559.4 L203.2 555.6 L204.7 552.6 L206.2 552.7 L207.7 555.3 L209.2 556.2 L210.7 561.5 L212.2 565.2 L213.7 566.2 L215.2 568.9 L216.7 568.8 L218.7 566.8 L220.8 564.3 L222.8 560.8 L224.8 553.2 L226.8 529.9 L228.8 498.9 L230.8 511.0 L232.8 507.9 L234.8 500.6 L236.3 502.1 L237.9 504.1 L239.9 520.4 L241.4 525.4 L242.9 533.2 L244.4 539.4 L245.9 544.5 L247.9 558.7 L250.3 571.3 L252.9 562.7 L255.0 546.3 L256.5 545.4 L258.0 546.5 L260.0 549.7 L262.0 551.4 L263.5 555.0 L265.0 559.3 L266.5 558.1 L268.0 554.0 L270.0 553.6 L271.5 560.4 L273.1 570.4 L274.6 576.2 L276.1 580.9 L277.6 579.4 L279.1 575.4 L280.6 573.6 L282.1 572.5 L283.6 571.6 L285.1 565.3 L287.1 546.4 L289.1 515.4 L291.2 482.6 L292.7 479.9 L294.2 478.6 L296.2 449.0 L298.2 450.5 L299.8 490.5 L301.2 518.2 L302.7 514.9 L304.2 516.0 L306.2 509.8 L308.7 494.1 L310.3 506.5 L312.3 509.6 L313.8 517.2 L315.3 526.4 L316.8 532.5 L318.3 539.2 L319.8 544.7 L321.3 548.1 L322.8 555.3 L324.3 563.0 L326.4 571.0 L327.9 567.9 L329.4 562.5 L330.9 559.6 L332.4 554.3 L335.0 547.3 L336.5 549.1 L338.0 553.9 L340.6 551.6 L342.6 521.3 L344.7 510.5 L347.1 518.3 L349.5 524.6 L352.1 539.2 L354.1 555.0 L355.6 559.5 L357.1 566.0 L359.5 555.1 L361.1 533.0 L363.2 525.6 L364.7 522.6 L366.2 522.2 L368.2 529.0 L369.7 533.0 L371.2 533.7 L373.2 537.4 L375.2 538.6 L377.2 536.2 L379.2 534.2 L381.3 536.7 L383.3 538.3 L385.3 516.6 L387.7 498.0 L389.7 509.6 L391.7 534.8 L394.3 542.4 L396.3 516.2 L398.4 479.5 L400.4 497.3 L402.4 529.5 L403.9 535.9 L405.4 543.5 L406.9 546.8 L408.4 551.6 L409.9 550.8 L411.4 549.9 L412.9 543.5 L414.4 537.8 L416.0 544.5 L417.5 554.8 L419.0 560.9 L420.5 568.6 L422.0 572.9 L423.5 578.9 L425.0 575.2 L426.5 567.7 L428.0 559.8 L429.5 550.3 L431.0 549.9 L432.5 548.8 L435.0 538.1 L437.6 525.8 L439.6 544.7 L441.6 562.0 L443.1 564.2 L444.6 569.3 L446.6 564.2 L448.1 569.7 L449.6 574.0 L451.7 578.7 L454.1 570.9 L456.7 583.0 L458.2 579.1 L459.7 578.2 L461.2 574.8 L462.7 570.1 L464.7 575.4 L466.7 578.9 L468.2 580.4 L469.8 582.1 L471.3 579.0 L472.8 571.6 L474.3 563.7 L475.8 560.3 L477.8 556.0 L479.8 553.6 L481.8 545.4 L483.8 536.1 L485.3 526.4 L486.9 517.9 L488.9 512.5 L490.4 516.0 L491.9 518.6 L493.4 515.9 L494.9 515.4 L496.4 520.8 L497.9 526.5 L499.4 532.5 L500.9 539.8 L502.9 561.6 L505.0 573.0 L507.0 553.2 L508.5 556.5 L510.0 558.5 L512.0 560.5 L514.0 561.3 L516.0 558.8 L518.0 556.4 L520.0 556.3 L522.0 552.2 L524.1 528.1 L526.1 488.1 L528.1 469.1 L529.7 480.9 L531.7 511.2 L533.7 519.2 L536.1 511.0 L537.6 517.9 L539.1 524.5 L541.2 512.0 L543.2 471.1 L545.2 456.4 L546.6 480.1 L548.2 513.5 L549.7 522.8 L551.2 532.2 L552.7 533.7 L554.2 537.8 L555.7 534.8 L557.2 535.3 L558.8 545.9 L560.3 554.6 L562.9 569.8 L564.4 563.1 L565.9 557.7 L568.3 545.0 L569.8 538.4 L571.3 537.2 L572.8 527.0 L574.3 515.6 L575.8 508.2 L577.4 500.9 L578.9 507.1 L580.4 517.1 L582.7 516.2 L585.0 518.0 L586.5 522.4 L588.0 525.7 L589.5 531.0 L591.0 535.3 L592.5 538.7 L594.1 541.9 L595.6 536.9 L597.1 534.7 L598.6 536.8 L600.1 537.4 L601.6 532.6 L603.1 525.6 L604.6 527.2 L606.1 527.8 L607.6 532.6 L609.1 535.3 L610.6 543.4 L612.2 547.4 L614.8 555.7 L616.5 550.4 L618.2 547.1 L619.7 544.2 L621.2 538.6 L622.7 531.6 L624.2 526.3 L625.7 518.1 L627.2 512.3 L629.2 510.3 L630.8 510.5 L632.3 512.7 L633.8 516.9 L635.3 521.2 L636.8 518.0 L638.3 518.1 L639.8 523.3 L641.3 527.1 L642.8 516.8 L644.3 508.0 L646.3 486.0 L647.8 479.8 L649.8 494.1 L651.8 487.4 L653.8 480.1 L655.4 489.0 L657.4 521.4 L658.9 524.6 L660.4 530.1 L662.4 534.6 L664.4 539.4 L666.0 537.4 L667.5 540.6 L669.0 538.9 L670.5 534.9 L672.0 543.9 L673.5 549.4 L675.0 550.8 L676.5 552.2 L678.0 554.3 L679.5 557.0 L681.0 560.1 L682.5 561.1 L684.1 567.3 L685.6 569.4 L687.6 574.9 L689.6 564.0 L691.1 555.4 L692.6 549.3 L694.1 541.6 L695.6 533.5 L697.1 530.8 L698.6 527.4 L700.1 516.4 L701.7 509.4 L704.1 503.9 L705.7 509.5 L707.7 530.2 L709.7 537.0 L711.2 531.3 L712.7 523.5 L714.2 518.6 L715.7 514.9 L717.7 524.7 L719.8 556.5 L721.8 567.0 L723.8 563.0 L725.8 536.7 L727.8 515.8 L729.8 500.8 L731.4 511.9 L733.8 527.5 L735.8 533.4 L737.9 537.4 L739.4 541.9 L740.9 548.6 L742.4 547.8 L743.9 550.2 L745.9 532.6 L748.3 510.9 L750.3 502.3 L752.3 517.3 L754.3 538.9 L757.0 564.1 L759.0 536.4 L761.0 521.0 L763.0 537.1 L765.0 578.8 L766.4 610.9 L768.4 591.0 L770.0 583.8 L772.0 607.3 L774.1 623.9 L776.1 608.8 L778.5 575.4 L781.1 547.3 L783.1 564.8 L785.1 581.3 L787.1 574.0 L788.6 564.8 L790.1 560.5 L791.7 553.6 L793.2 545.8 L795.8 543.0 L798.2 554.5 L800.2 562.5 L801.7 558.8 L803.2 552.9 L805.2 551.9 L806.7 556.0 L808.3 559.6 L809.8 561.9 L811.3 563.9 L812.8 564.6 L814.3 565.4 L815.8 566.9 L817.3 568.3 L818.8 572.2 L820.3 578.9 L821.8 573.9 L823.3 572.5 L824.8 566.7 L826.4 565.5 L827.9 567.3 L829.4 570.7 L830.9 563.4 L832.4 560.7 L835.0 559.8 L836.5 556.3 L838.0 556.7 L839.5 553.2 L841.0 552.2 L842.5 549.5 L844.1 548.0 L845.6 546.6 L847.1 543.4 L848.6 542.6 L850.1 537.4 L851.6 539.1 L853.1 538.3 L854.6 539.2 L856.1 539.5 L857.6 540.3 L859.1 543.8 L860.6 549.4 L862.2 554.1 L863.7 561.0 L865.2 563.8 L866.7 569.0 L868.2 572.0 L869.7 572.0 L871.2 572.9 L872.7 571.5 L874.2 565.7 L875.7 566.3 L877.2 561.4 L878.7 562.5 L880.3 559.2 L881.8 564.1 L883.3 569.8 L884.8 575.6 L886.3 584.4 L888.3 596.1 L889.7 599.6 L892.3 586.1 L893.8 587.3 L895.3 582.9 L897.3 578.3 L899.4 573.3 L901.4 573.5 L903.4 571.5 L905.4 573.3 L907.4 570.2 L909.4 568.2 L911.4 567.1 L913.4 565.9 L914.9 563.1 L916.5 561.4 L918.0 558.7 L919.5 553.5 L921.0 550.6 L922.5 543.7 L924.0 542.6 L925.5 543.0 L927.0 541.1 L928.5 540.1 L930.5 539.9 L932.5 535.7 L934.1 539.5 L935.6 542.8 L937.1 541.5 L938.6 540.4 L940.1 545.0 L941.6 548.7 L943.1 553.4 L944.6 558.0 L946.1 553.3 L947.6 548.9 L949.1 548.0 L950.6 542.5 L952.2 548.9 L953.7 551.5 L955.7 534.7 L957.3 517.2 L958.7 514.4 L960.1 533.1 L962.1 547.9 L964.7 550.9 L966.2 551.5 L967.7 554.7 L969.3 556.3 L970.8 562.1 L972.8 565.1 L974.8 550.2 L976.8 539.7 L978.8 537.8 L980.8 549.8 L982.3 550.2 L983.8 546.1 L985.3 547.3 L986.9 552.0 L988.4 557.8 L989.9 561.6 L991.4 568.3 L992.9 576.2 L994.9 582.8 L996.4 578.6 L997.9 576.9 L999.4 572.1 L1000.9 568.1 L1002.4 563.0 L1003.9 558.6 L1005.5 565.3 L1007.0 568.9 L1009.6 580.0 L1012.0 568.4 L1013.5 567.3 L1015.0 562.8 L1016.5 562.5 L1018.0 561.2 L1019.5 559.4 L1021.0 557.8 L1022.6 552.3 L1024.1 545.8 L1025.6 542.5 L1027.1 537.2 L1028.6 532.6 L1030.1 532.5 L1031.6 534.5 L1033.1 536.8 L1034.6 543.6 L1036.1 550.4 L1037.6 549.2 L1039.1 547.1 L1040.7 546.9 L1042.2 546.4 L1043.7 548.0 L1045.2 550.3 L1046.7 549.4 L1048.2 552.4 L1049.7 555.3 L1051.2 556.0 L1053.8 559.7" stroke="#00ffff" stroke-width="4.8"/>
<path d="M85.5 544.95 H1052.2" stroke="#000" stroke-width="1.6" stroke-linecap="butt"/>
<path d="M86.0 548.9 C87.2 548.9 90.7 548.9 93.0 548.5 C95.4 548.2 97.7 547.9 100.1 546.9 C102.4 545.9 104.8 544.6 107.1 542.5 C109.5 540.4 111.8 537.5 114.2 534.4 C116.5 531.4 118.9 527.7 121.2 524.4 C123.5 521.0 125.9 517.2 128.2 514.3 C130.6 511.5 132.9 509.4 135.3 507.3 C137.6 505.2 140.1 503.0 142.3 501.9 C144.5 500.7 146.3 500.0 148.4 500.3 C150.4 500.5 152.4 501.9 154.4 503.3 C156.4 504.6 158.4 506.5 160.4 508.3 C162.4 510.1 164.4 512.2 166.5 514.3 C168.5 516.5 170.6 518.7 172.5 521.4 C174.3 524.1 175.8 527.2 177.5 530.4 C179.2 533.6 180.9 537.0 182.5 540.5 C184.2 544.0 185.9 548.3 187.6 551.5 C189.3 554.8 190.9 558.0 192.6 560.2 C194.3 562.4 196.1 563.8 197.6 564.6 C199.1 565.4 200.3 565.3 201.7 565.0 C203.0 564.7 204.3 564.2 205.7 562.6 C207.0 561.0 208.4 557.9 209.7 555.6 C211.0 553.2 212.4 550.4 213.7 548.5 C215.1 546.7 216.1 545.3 217.7 544.5 C219.4 543.7 221.9 543.3 223.8 543.5 C225.6 543.7 227.1 544.7 228.8 545.5 C230.5 546.3 232.0 547.7 233.8 548.5 C235.7 549.4 237.9 550.5 239.9 550.5 C241.9 550.5 243.9 549.5 245.9 548.5 C247.9 547.5 249.9 546.0 251.9 544.5 C253.9 543.0 256.0 541.1 258.0 539.5 C260.0 537.8 262.0 535.8 264.0 534.4 C266.0 533.1 268.0 531.8 270.0 531.4 C272.0 531.1 274.1 532.1 276.1 532.4 C278.1 532.8 280.1 532.8 282.1 533.4 C284.1 534.1 286.1 534.9 288.1 536.5 C290.1 538.0 292.3 541.3 294.2 542.5 C296.0 543.7 297.5 544.0 299.2 543.5 C300.9 543.0 302.4 541.0 304.2 539.5 C306.1 538.0 308.3 536.0 310.3 534.4 C312.3 532.9 314.5 531.2 316.3 530.4 C318.1 529.7 319.6 529.7 321.3 530.0 C323.0 530.4 324.8 530.7 326.4 532.4 C327.9 534.2 328.9 536.8 330.4 540.5 C331.8 544.2 333.6 550.4 335.0 554.6 C336.4 558.7 337.5 561.6 339.0 565.6 C340.5 569.6 342.4 575.0 344.1 578.7 C345.7 582.4 347.4 585.7 349.1 587.7 C350.8 589.7 352.4 591.6 354.1 590.7 C355.8 589.9 357.5 586.0 359.1 582.7 C360.8 579.3 362.5 574.7 364.2 570.6 C365.8 566.6 367.5 562.6 369.2 558.6 C370.9 554.6 372.5 549.9 374.2 546.5 C375.9 543.2 377.6 540.1 379.2 538.5 C380.9 536.8 382.6 536.3 384.3 536.5 C386.0 536.6 387.6 537.8 389.3 539.5 C391.0 541.1 392.7 543.7 394.3 546.5 C396.0 549.4 397.7 553.2 399.4 556.6 C401.0 559.9 402.7 563.4 404.4 566.6 C406.1 569.8 407.7 572.0 409.4 575.7 C411.1 579.3 412.8 584.7 414.4 588.7 C416.1 592.8 417.8 596.6 419.5 599.8 C421.1 603.0 422.8 605.8 424.5 607.8 C426.2 609.8 427.7 610.9 429.5 611.9 C431.4 612.8 433.9 613.4 435.6 613.3 C437.2 613.1 438.4 611.6 439.6 610.8 C440.8 610.1 441.6 608.7 442.6 608.8 C443.6 608.9 444.4 611.2 445.6 611.4 C446.8 611.7 448.3 610.7 449.6 610.4 C451.0 610.2 452.5 610.6 453.7 609.8 C454.8 609.1 455.5 608.0 456.7 605.8 C457.9 603.6 459.4 600.0 460.7 596.8 C462.0 593.6 463.2 590.7 464.7 586.7 C466.2 582.7 468.2 577.2 469.8 572.6 C471.3 568.1 472.4 563.3 473.8 559.6 C475.1 555.9 476.5 552.9 477.8 550.5 C479.1 548.2 480.6 546.6 481.8 545.5 C483.0 544.4 483.7 543.9 484.8 544.1 C486.0 544.3 487.4 544.9 488.9 546.5 C490.4 548.1 492.2 551.4 493.9 553.5 C495.6 555.7 497.2 557.9 498.9 559.6 C500.6 561.3 502.8 562.8 503.9 563.6 C505.1 564.4 505.0 564.7 506.0 564.2 C507.0 563.7 508.5 562.9 510.0 560.6 C511.5 558.3 513.3 554.6 515.0 550.5 C516.7 546.5 518.4 541.0 520.0 536.5 C521.7 531.9 523.4 527.2 525.1 523.4 C526.7 519.5 528.4 515.7 530.1 513.3 C531.8 510.9 533.6 508.7 535.1 508.9 C536.6 509.1 537.6 511.1 539.1 514.3 C540.7 517.6 542.5 524.1 544.2 528.4 C545.8 532.8 547.7 537.3 549.2 540.5 C550.7 543.7 552.0 546.1 553.2 547.5 C554.4 549.0 555.1 549.3 556.2 549.1 C557.4 549.0 558.8 548.6 560.3 546.5 C561.8 544.4 563.6 540.1 565.3 536.5 C567.0 532.8 568.6 528.7 570.3 524.4 C572.0 520.0 573.7 514.7 575.3 510.3 C577.0 506.0 578.8 500.9 580.4 498.3 C582.0 495.6 583.2 495.4 585.0 494.6 C586.8 493.9 589.0 494.2 591.0 493.8 C593.0 493.4 595.1 492.4 597.1 492.2 C599.1 492.0 601.1 492.7 603.1 492.6 C605.1 492.6 607.1 491.7 609.1 491.8 C611.1 491.9 613.2 492.9 615.2 493.2 C617.2 493.6 619.5 493.8 621.2 493.8 C622.9 493.8 623.7 493.9 625.2 493.2 C626.7 492.6 628.7 490.7 630.3 489.8 C631.8 488.9 632.9 487.7 634.3 487.8 C635.6 487.9 637.0 488.6 638.3 490.2 C639.6 491.8 640.8 494.4 642.3 497.2 C643.8 500.1 645.7 504.0 647.3 507.3 C649.0 510.7 650.9 514.7 652.4 517.4 C653.9 520.0 655.1 521.9 656.4 523.4 C657.7 524.9 658.9 526.1 660.4 526.4 C661.9 526.7 663.6 525.7 665.5 525.4 C667.3 525.1 669.6 524.4 671.5 524.4 C673.3 524.4 674.8 524.4 676.5 525.4 C678.2 526.4 679.9 528.7 681.5 530.4 C683.2 532.1 684.9 533.9 686.6 535.4 C688.2 537.0 689.9 538.5 691.6 539.5 C693.3 540.5 695.1 541.1 696.6 541.5 C698.1 541.8 699.3 541.8 700.6 541.5 C702.0 541.1 703.2 539.6 704.7 539.5 C706.2 539.3 708.0 540.2 709.7 540.5 C711.4 540.7 713.1 540.9 714.7 540.9 C716.4 540.9 718.1 540.3 719.8 540.5 C721.4 540.7 723.3 542.1 724.8 542.1 C726.3 542.1 727.3 541.6 728.8 540.5 C730.3 539.4 732.2 538.0 733.8 535.4 C735.5 532.9 737.2 529.4 738.9 525.4 C740.5 521.4 742.4 515.5 743.9 511.3 C745.4 507.1 746.7 502.9 747.9 500.3 C749.1 497.6 749.8 496.3 750.9 495.2 C752.1 494.2 753.6 493.7 755.0 493.8 C756.3 494.0 757.6 494.5 759.0 496.2 C760.3 498.0 761.7 500.9 763.0 504.3 C764.3 507.6 765.7 512.0 767.0 516.3 C768.4 520.7 769.7 525.4 771.0 530.4 C772.4 535.4 773.7 541.5 775.1 546.5 C776.4 551.5 777.7 556.6 779.1 560.6 C780.4 564.6 781.8 568.1 783.1 570.6 C784.5 573.1 785.6 574.3 787.1 575.7 C788.6 577.0 790.8 578.0 792.2 578.7 C793.5 579.3 794.2 580.0 795.2 579.7 C796.2 579.3 797.0 578.2 798.2 576.7 C799.4 575.2 800.9 572.8 802.2 570.6 C803.6 568.5 804.9 565.6 806.2 563.6 C807.6 561.6 808.9 559.7 810.3 558.6 C811.6 557.4 812.9 556.4 814.3 556.6 C815.6 556.7 817.0 558.1 818.3 559.6 C819.6 561.1 821.0 563.1 822.3 565.6 C823.7 568.1 825.0 570.8 826.4 574.7 C827.7 578.5 828.9 583.7 830.4 588.7 C831.8 593.8 833.6 600.5 835.0 604.8 C836.4 609.2 837.5 611.7 839.0 614.9 C840.5 618.1 842.4 621.6 844.1 623.9 C845.7 626.3 847.6 627.6 849.1 628.9 C850.6 630.3 851.4 631.9 853.1 632.0 C854.8 632.0 857.1 630.0 859.1 629.3 C861.1 628.7 863.2 628.4 865.2 627.9 C867.2 627.5 869.2 627.0 871.2 626.5 C873.2 626.1 875.4 626.3 877.2 625.3 C879.1 624.4 880.6 622.2 882.3 620.9 C883.9 619.6 885.6 618.1 887.3 617.3 C889.0 616.4 890.6 616.7 892.3 615.9 C894.0 615.1 895.7 613.1 897.3 612.5 C899.0 611.8 900.7 612.5 902.4 611.9 C904.1 611.2 905.7 609.7 907.4 608.8 C909.1 608.0 910.9 607.5 912.4 606.8 C913.9 606.2 915.1 606.5 916.5 604.8 C917.8 603.1 919.1 599.8 920.5 596.8 C921.8 593.8 923.2 589.9 924.5 586.7 C925.8 583.5 927.2 580.1 928.5 577.7 C929.9 575.3 931.0 573.6 932.5 572.2 C934.1 570.9 935.7 570.0 937.6 569.6 C939.4 569.3 941.9 569.5 943.6 570.0 C945.3 570.6 946.0 572.1 947.6 573.0 C949.3 574.0 951.7 575.0 953.7 575.7 C955.7 576.3 957.7 576.7 959.7 577.1 C961.7 577.4 964.1 577.4 965.7 577.7 C967.4 577.9 968.2 577.7 969.8 578.7 C971.3 579.7 973.1 582.0 974.8 583.7 C976.5 585.4 978.1 587.2 979.8 588.7 C981.5 590.3 983.2 591.8 984.8 593.2 C986.5 594.5 988.2 595.9 989.9 596.8 C991.5 597.6 993.2 598.4 994.9 598.4 C996.6 598.3 998.2 596.9 999.9 596.4 C1001.6 595.8 1003.3 595.6 1005.0 595.2 C1006.6 594.7 1008.3 593.8 1010.0 593.8 C1011.7 593.7 1013.5 595.1 1015.0 594.8 C1016.5 594.4 1017.5 593.1 1019.0 591.7 C1020.5 590.4 1022.4 588.9 1024.1 586.7 C1025.7 584.5 1027.4 581.2 1029.1 578.7 C1030.8 576.2 1032.4 574.0 1034.1 571.6 C1035.8 569.3 1037.5 567.1 1039.1 564.6 C1040.8 562.1 1042.5 559.1 1044.2 556.6 C1045.8 554.0 1047.5 551.7 1049.2 549.5 C1050.9 547.3 1053.4 544.5 1054.2 543.5" stroke="#ff0000" stroke-width="4.7"/>
</g>
<text transform="translate(1024.00,617.10) scale(1,1.040)" text-anchor="start" font-size="32.00" fill="#000" font-family="Liberation Sans, sans-serif">No.947</text>
<path d="M1121.3 450.38 V640.33 M1121.3 451.10 h-11.5 M1121.3 498.23 h-11.5 M1121.3 545.35 h-11.5 M1121.3 592.48 h-11.5 M1121.3 639.60 h-11.5" stroke="#ff0000" fill="none" stroke-width="1.45"/>
<text transform="translate(70.70,463.70) scale(1,1.040)" text-anchor="end" font-size="32.00" fill="#0000ff" font-family="Liberation Sans, sans-serif">4</text>
<text transform="translate(1134.15,463.70) scale(1,1.040)" text-anchor="start" font-size="32.00" fill="#ff0000" font-family="Liberation Sans, sans-serif">0.2</text>
<text transform="translate(70.70,510.83) scale(1,1.040)" text-anchor="end" font-size="32.00" fill="#0000ff" font-family="Liberation Sans, sans-serif">2</text>
<text transform="translate(1134.15,510.83) scale(1,1.040)" text-anchor="start" font-size="32.00" fill="#ff0000" font-family="Liberation Sans, sans-serif">0.1</text>
<text transform="translate(70.70,557.95) scale(1,1.040)" text-anchor="end" font-size="32.00" fill="#0000ff" font-family="Liberation Sans, sans-serif">0</text>
<text transform="translate(1134.15,557.95) scale(1,1.040)" text-anchor="start" font-size="32.00" fill="#ff0000" font-family="Liberation Sans, sans-serif">0</text>
<text transform="translate(70.70,605.08) scale(1,1.040)" text-anchor="end" font-size="32.00" fill="#0000ff" font-family="Liberation Sans, sans-serif">-2</text>
<text transform="translate(1134.15,605.08) scale(1,1.040)" text-anchor="start" font-size="32.00" fill="#ff0000" font-family="Liberation Sans, sans-serif">-0.1</text>
<text transform="translate(70.70,652.20) scale(1,1.040)" text-anchor="end" font-size="32.00" fill="#0000ff" font-family="Liberation Sans, sans-serif">-4</text>
<text transform="translate(1134.15,652.20) scale(1,1.040)" text-anchor="start" font-size="32.00" fill="#ff0000" font-family="Liberation Sans, sans-serif">-0.2</text>
<g fill="none" stroke-width="1.45" stroke-linecap="butt">
<path d="M85.5 671.20 H1121.3 M85.5 859.70 H1121.3 M107.8 671.20 v11.5 M107.8 859.70 v-11.5 M185.5 671.20 v11.5 M185.5 859.70 v-11.5 M263.1 671.20 v11.5 M263.1 859.70 v-11.5 M340.8 671.20 v11.5 M340.8 859.70 v-11.5 M418.5 671.20 v11.5 M418.5 859.70 v-11.5 M496.2 671.20 v11.5 M496.2 859.70 v-11.5 M573.8 671.20 v11.5 M573.8 859.70 v-11.5 M651.5 671.20 v11.5 M651.5 859.70 v-11.5 M729.2 671.20 v11.5 M729.2 859.70 v-11.5 M806.8 671.20 v11.5 M806.8 859.70 v-11.5 M884.5 671.20 v11.5 M884.5 859.70 v-11.5 M962.2 671.20 v11.5 M962.2 859.70 v-11.5 M1039.8 671.20 v11.5 M1039.8 859.70 v-11.5" stroke="#000"/>
<path d="M85.5 670.48 V860.43 M85.5 671.20 h11.5 M85.5 718.33 h11.5 M85.5 765.45 h11.5 M85.5 812.58 h11.5 M85.5 859.70 h11.5" stroke="#0000ff"/>
</g>
<clipPath id="c3"><rect x="85.5" y="670.48" width="1035.8" height="189.95"/></clipPath>
<g clip-path="url(#c3)" fill="none" stroke-linejoin="round" stroke-linecap="butt">
<path d="M85.0 768.1 L87.0 765.6 L89.0 763.7 L91.0 756.9 L93.0 750.8 L94.6 750.6 L96.1 749.1 L97.6 750.0 L99.1 751.8 L101.1 754.7 L103.1 758.3 L105.1 756.8 L107.1 757.1 L108.6 761.4 L110.1 764.0 L111.6 763.1 L113.2 762.5 L114.7 756.6 L116.2 751.0 L117.7 749.2 L119.2 749.1 L120.7 750.0 L122.2 752.7 L124.2 753.9 L126.2 753.1 L128.2 757.9 L130.3 760.2 L131.8 760.6 L133.3 762.1 L135.3 762.5 L137.3 764.7 L138.8 760.4 L140.3 755.7 L141.8 754.4 L143.3 750.8 L144.8 750.0 L146.3 747.7 L147.9 737.1 L149.4 727.3 L150.9 718.4 L152.4 706.6 L154.4 698.4 L156.4 694.7 L157.9 698.3 L159.4 701.5 L161.4 703.4 L163.4 703.5 L165.5 707.3 L167.5 711.3 L169.0 715.6 L170.5 721.1 L172.5 733.9 L174.5 745.7 L176.5 755.8 L178.0 760.2 L179.5 761.8 L181.5 764.5 L183.6 766.0 L185.6 767.6 L187.6 770.2 L189.6 769.9 L191.6 769.3 L193.6 767.6 L195.6 766.0 L197.6 766.4 L199.6 765.7 L201.7 766.8 L203.7 769.1 L205.7 767.8 L207.7 768.9 L209.7 771.5 L211.7 775.4 L213.7 773.5 L215.7 774.1 L217.7 773.7 L219.8 774.8 L221.8 771.4 L223.8 771.2 L225.8 770.4 L227.8 769.7 L229.8 771.3 L231.8 771.4 L233.8 770.3 L235.8 769.0 L237.9 767.9 L239.9 770.5 L241.9 769.8 L243.9 770.5 L245.9 767.7 L247.9 768.1 L249.9 767.0 L251.9 766.3 L253.9 766.0 L255.6 764.8 L257.3 765.8 L259.0 765.9 L260.7 765.0 L262.3 765.3 L264.0 761.4 L265.7 763.6 L267.4 765.2 L269.0 768.7 L270.7 767.9 L272.4 769.7 L274.1 772.9 L276.1 774.8 L278.1 777.6 L280.1 780.4 L282.1 779.0 L284.1 783.4 L286.1 783.2 L288.1 783.0 L290.1 782.9 L292.2 782.9 L294.2 782.0 L296.2 781.9 L298.2 779.4 L300.2 777.5 L302.2 775.0 L304.2 776.2 L306.2 774.5 L308.3 770.9 L310.3 772.4 L312.3 772.9 L314.3 771.5 L316.3 771.2 L318.3 769.7 L320.3 769.6 L322.3 769.0 L324.3 768.9 L326.4 772.5 L328.4 771.3 L330.6 769.0 L332.8 768.7 L335.0 766.3 L336.7 765.0 L338.4 764.5 L340.0 766.6 L342.0 768.0 L344.1 770.2 L346.1 775.2 L348.1 780.2 L350.1 783.0 L352.1 785.6 L353.6 787.6 L355.1 793.5 L357.1 796.7 L358.6 795.3 L360.1 791.7 L362.2 793.5 L364.2 792.9 L366.2 789.6 L368.2 788.6 L370.2 785.0 L372.2 780.9 L373.7 778.9 L375.2 777.5 L377.2 779.1 L379.2 779.5 L381.3 776.6 L383.3 774.5 L384.8 772.4 L386.3 769.0 L387.8 771.6 L389.3 773.2 L390.8 775.0 L392.3 775.1 L393.8 772.2 L395.3 770.1 L396.8 770.8 L398.4 773.6 L399.9 779.4 L401.4 781.5 L402.9 787.4 L404.4 792.8 L406.8 796.0 L409.4 791.0 L410.9 787.0 L412.4 782.8 L414.4 780.6 L416.5 778.0 L418.5 781.1 L420.5 779.6 L422.5 780.1 L424.5 776.9 L426.5 777.3 L428.5 776.2 L430.2 776.5 L431.9 774.7 L433.6 775.5 L435.6 776.9 L437.6 774.5 L439.6 778.0 L441.6 778.1 L443.6 775.2 L445.6 774.3 L447.6 776.8 L449.6 775.6 L451.7 779.3 L453.7 784.6 L455.7 788.9 L457.2 786.1 L458.7 782.2 L460.7 780.7 L462.7 775.7 L464.7 777.0 L466.7 776.1 L468.7 778.2 L470.8 779.3 L472.8 776.2 L474.8 774.7 L476.8 770.5 L478.8 768.3 L480.8 767.7 L482.8 763.7 L484.3 762.0 L485.8 755.6 L487.3 736.3 L488.3 736.7 L489.7 754.9 L491.3 760.0 L492.9 767.8 L494.4 770.7 L495.9 771.5 L497.9 771.3 L499.9 772.5 L501.9 768.4 L503.9 765.3 L505.5 762.5 L507.0 760.4 L509.0 758.6 L511.0 757.9 L513.0 758.0 L515.0 760.5 L517.0 763.7 L519.0 767.8 L521.0 769.4 L523.1 767.2 L524.7 768.0 L526.4 767.3 L528.1 767.6 L529.8 768.4 L531.4 767.6 L533.1 767.6 L535.1 766.9 L537.1 765.6 L538.6 760.2 L540.1 755.8 L541.7 749.4 L543.2 744.2 L544.7 747.0 L546.2 747.3 L548.2 747.3 L550.2 745.3 L552.2 746.2 L554.2 748.6 L555.9 749.3 L557.6 747.3 L559.3 746.4 L560.9 746.8 L562.6 748.5 L564.3 749.4 L566.0 750.5 L567.6 752.1 L569.3 749.5 L571.3 751.3 L573.3 747.9 L575.3 746.1 L577.4 741.8 L579.4 737.3 L581.4 734.2 L583.2 733.4 L585.0 734.1 L587.0 732.8 L589.0 730.7 L590.5 723.9 L592.0 720.2 L594.7 713.5 L597.1 720.2 L598.6 723.9 L600.1 727.1 L601.6 726.1 L603.1 726.6 L605.1 723.6 L607.1 724.1 L609.1 721.8 L611.1 720.8 L612.7 719.7 L614.2 715.7 L615.7 719.7 L617.2 721.7 L619.2 726.2 L621.2 733.4 L623.2 736.7 L625.2 739.4 L626.9 740.4 L628.6 740.9 L630.3 742.1 L632.3 746.1 L634.3 748.9 L636.3 753.5 L638.3 756.8 L640.3 756.1 L642.3 759.2 L644.3 756.2 L646.3 756.9 L647.9 753.5 L649.4 752.5 L650.9 749.3 L652.4 749.1 L653.9 746.7 L655.4 745.1 L656.9 747.6 L658.4 751.8 L659.9 756.1 L661.4 758.8 L663.4 763.4 L665.5 765.0 L667.1 766.5 L668.8 765.7 L670.5 765.2 L672.0 762.5 L673.5 759.3 L675.0 751.7 L676.5 742.3 L678.5 739.3 L680.5 746.7 L682.0 753.1 L683.6 758.1 L685.6 759.9 L687.6 763.7 L689.3 764.4 L690.9 762.3 L692.6 764.1 L694.3 762.2 L696.0 762.0 L697.6 760.1 L699.3 760.3 L701.0 760.6 L702.7 757.9 L704.3 756.8 L706.0 757.2 L707.7 756.8 L709.7 757.7 L711.7 761.5 L713.7 761.1 L715.7 760.8 L717.4 761.5 L719.1 760.1 L720.8 762.1 L722.4 760.2 L724.1 754.1 L725.8 752.4 L727.5 752.5 L729.1 750.7 L730.8 749.3 L732.5 752.4 L734.2 749.9 L735.8 750.9 L737.5 750.6 L739.2 749.9 L740.9 748.3 L742.9 748.8 L744.9 748.3 L746.4 754.4 L747.9 758.8 L749.4 760.6 L750.9 766.7 L752.6 768.9 L754.3 768.2 L756.0 771.0 L757.6 773.8 L759.3 774.8 L761.0 774.7 L762.7 773.8 L764.3 773.3 L766.0 774.3 L768.0 772.3 L770.0 767.9 L771.5 764.4 L773.1 761.8 L774.6 759.1 L776.1 757.9 L777.6 757.1 L779.1 761.1 L781.1 762.8 L783.1 765.0 L784.8 767.6 L786.5 769.1 L788.1 768.0 L790.1 768.4 L792.2 767.4 L794.2 765.7 L796.2 765.2 L798.2 765.2 L800.2 765.1 L801.9 769.0 L803.6 768.2 L805.2 768.9 L806.7 774.3 L808.3 776.6 L810.3 780.1 L811.8 775.6 L813.3 769.5 L815.0 769.3 L816.6 766.1 L818.3 764.9 L820.0 762.0 L821.7 761.7 L823.3 761.9 L825.0 760.0 L826.7 760.0 L828.4 759.5 L830.6 758.6 L832.8 759.3 L835.0 759.5 L836.5 757.4 L838.0 756.5 L839.5 761.1 L841.0 764.2 L843.0 763.6 L845.1 763.7 L847.1 765.4 L849.1 767.8 L851.1 767.6 L853.1 767.3 L855.1 770.7 L857.1 773.1 L858.6 772.8 L860.1 768.9 L862.2 772.6 L864.2 774.4 L866.2 777.2 L868.2 778.1 L869.9 776.7 L871.5 777.5 L873.2 777.1 L874.9 777.9 L876.6 775.4 L878.2 776.9 L879.9 774.1 L881.6 773.8 L883.3 773.6 L884.9 775.2 L886.6 776.6 L888.3 774.5 L890.0 775.6 L891.7 775.8 L893.3 775.6 L895.0 776.8 L896.7 776.0 L898.4 775.2 L900.0 776.7 L901.7 774.4 L903.4 776.2 L905.1 774.8 L906.7 775.4 L908.4 776.8 L910.1 777.9 L911.8 777.3 L913.4 776.9 L915.1 780.3 L916.8 779.5 L918.5 780.0 L920.5 778.4 L922.5 776.3 L924.5 776.8 L926.5 774.6 L928.2 773.4 L929.9 773.3 L931.5 774.5 L933.2 773.2 L934.9 771.8 L936.6 771.6 L938.2 768.6 L939.9 768.3 L941.6 767.1 L943.6 769.5 L945.6 766.5 L947.6 766.5 L949.6 765.2 L951.7 765.2 L953.7 763.0 L955.7 764.5 L957.7 765.5 L959.7 763.7 L961.7 763.5 L963.2 761.0 L964.7 761.0 L966.7 766.6 L968.2 768.6 L969.8 771.7 L971.8 773.8 L973.8 776.0 L975.8 776.4 L977.8 776.7 L979.3 773.7 L980.8 770.3 L982.8 769.3 L984.3 773.0 L985.8 774.4 L987.9 775.0 L989.9 778.9 L991.9 779.0 L993.9 779.6 L995.9 777.8 L997.9 776.1 L999.9 777.8 L1001.9 776.6 L1003.9 777.3 L1006.0 774.6 L1008.0 775.5 L1010.0 773.0 L1012.0 773.0 L1014.0 770.3 L1016.0 771.1 L1018.0 773.0 L1020.0 775.6 L1022.0 777.8 L1024.1 777.5 L1026.1 776.8 L1027.7 777.0 L1029.4 776.3 L1031.1 776.9 L1032.8 775.8 L1034.5 775.4 L1036.1 776.8 L1037.8 775.9 L1039.5 775.6 L1041.2 774.5 L1042.8 776.1 L1044.5 777.5 L1046.2 776.2 L1048.2 776.2 L1050.2 775.2" stroke="#0000ff" stroke-width="4.8"/>
<path d="M85.0 770.6 L86.7 768.9 L88.4 765.3 L90.0 764.4 L92.0 759.1 L94.1 753.2 L96.1 750.7 L98.1 746.1 L100.1 742.1 L102.1 740.0 L103.6 739.9 L105.1 741.0 L106.6 743.1 L108.1 744.6 L110.1 745.5 L112.2 741.9 L114.2 738.7 L116.2 733.7 L118.8 731.1 L121.2 738.7 L122.7 740.0 L124.2 745.6 L126.2 745.5 L128.2 747.8 L130.3 748.5 L132.3 750.1 L134.3 750.5 L136.3 750.7 L138.3 747.2 L140.3 746.0 L142.3 742.0 L144.3 739.6 L145.8 733.8 L147.3 730.5 L149.4 729.0 L151.4 726.8 L153.4 724.9 L155.4 724.1 L157.1 722.0 L158.7 721.3 L160.4 723.0 L162.4 722.4 L164.4 721.6 L166.0 724.6 L167.5 728.8 L169.0 730.0 L170.5 733.8 L172.0 740.6 L173.5 744.2 L175.0 751.6 L176.5 756.4 L178.5 761.8 L180.5 764.3 L182.2 764.0 L183.9 768.1 L185.6 767.3 L187.6 767.7 L189.6 767.0 L191.6 767.8 L193.6 766.6 L195.6 764.4 L197.6 763.1 L199.6 766.4 L201.7 769.2 L203.7 768.7 L205.7 770.6 L207.7 774.5 L209.7 778.3 L211.7 778.0 L213.7 777.7 L215.7 780.0 L217.7 776.2 L219.8 774.9 L221.8 772.9 L223.8 770.9 L225.8 770.2 L227.8 768.7 L229.8 770.9 L231.8 771.1 L233.8 772.9 L235.8 770.9 L237.9 770.3 L239.9 769.5 L241.9 769.7 L243.9 768.2 L245.9 767.5 L247.9 769.4 L249.9 768.2 L251.9 766.7 L253.9 765.5 L256.0 766.1 L258.0 762.8 L260.0 761.4 L262.0 761.1 L264.0 758.0 L265.7 758.7 L267.4 757.9 L269.0 757.4 L271.0 759.6 L273.1 758.4 L275.1 766.5 L277.1 769.1 L278.8 775.3 L280.4 775.6 L282.1 777.7 L284.1 780.4 L286.1 779.5 L288.1 781.0 L290.1 781.9 L292.2 783.0 L294.2 783.9 L295.8 783.1 L297.5 780.6 L299.2 777.1 L300.9 776.4 L302.6 776.6 L304.2 772.2 L305.9 772.1 L307.6 769.7 L309.3 768.9 L311.3 768.1 L313.3 764.3 L314.8 761.5 L316.3 755.6 L318.3 756.7 L320.3 758.4 L322.3 756.9 L324.3 758.0 L326.4 758.1 L328.4 757.3 L330.6 759.1 L332.8 758.4 L335.0 760.5 L336.7 760.3 L338.4 762.0 L340.0 763.7 L342.0 766.3 L344.1 769.3 L346.1 773.4 L348.1 775.5 L350.1 780.7 L352.1 787.8 L353.6 788.9 L355.1 791.9 L356.6 794.7 L358.1 794.4 L359.6 793.0 L361.1 787.6 L363.2 784.8 L365.2 783.8 L367.2 783.4 L369.2 781.3 L371.2 782.2 L373.2 778.6 L374.7 782.9 L376.2 783.9 L378.2 779.1 L380.3 778.9 L381.8 781.1 L383.3 786.8 L385.7 789.8 L388.3 783.8 L389.8 781.9 L391.3 782.0 L392.8 781.7 L394.3 788.3 L395.8 784.4 L397.3 784.2 L399.4 782.4 L401.4 778.0 L403.4 778.7 L405.4 779.3 L407.4 781.5 L409.4 782.8 L411.4 778.1 L413.4 778.6 L415.5 776.0 L417.5 773.8 L419.5 772.9 L421.5 774.1 L423.5 773.4 L425.5 772.4 L427.5 771.9 L429.5 772.3 L431.5 773.9 L433.6 774.4 L435.6 774.1 L437.6 770.7 L439.6 775.8 L441.6 779.4 L443.6 777.2 L445.6 774.1 L447.6 772.2 L449.6 770.2 L451.7 773.3 L453.7 773.6 L455.7 778.7 L457.7 778.4 L459.7 776.7 L461.7 775.2 L463.7 776.3 L465.7 774.9 L467.7 779.0 L469.8 777.4 L471.8 776.2 L473.8 771.0 L475.8 769.2 L477.8 769.7 L479.8 769.1 L481.8 770.5 L483.3 777.2 L484.8 783.5 L486.9 810.4 L488.3 822.0 L489.9 810.6 L491.9 783.7 L493.9 765.7 L495.4 763.3 L496.9 760.4 L498.9 761.3 L500.9 756.8 L502.9 758.0 L505.0 754.8 L507.0 756.5 L509.0 758.5 L511.0 758.6 L513.0 758.4 L515.0 758.9 L517.0 757.2 L519.0 757.8 L521.0 759.1 L523.1 763.3 L525.1 763.4 L527.1 767.4 L529.1 768.8 L531.1 766.4 L533.1 767.6 L535.1 767.0 L537.1 764.4 L539.1 759.2 L541.2 758.5 L542.7 752.6 L544.2 749.1 L546.2 748.9 L548.2 747.8 L550.2 750.7 L552.2 750.5 L554.2 751.4 L556.2 749.1 L558.3 747.9 L560.3 748.7 L562.3 747.7 L564.3 745.9 L566.3 747.6 L568.3 747.3 L570.3 749.0 L572.3 749.6 L574.3 751.0 L576.4 751.8 L578.4 748.9 L580.4 750.4 L582.7 746.2 L585.0 745.0" stroke="#00ffff" stroke-width="4.8"/>
<path d="M85.0 780.0 L86.8 781.8 L88.5 781.2 L90.3 780.7 L92.0 780.0 L93.5 777.6 L95.1 770.6 L96.6 768.0 L98.1 759.1 L99.6 754.3 L101.1 746.7 L102.6 745.0 L104.1 744.0 L105.6 747.3 L107.1 750.3 L108.6 748.9 L110.1 747.4 L111.6 745.3 L113.2 739.0 L114.7 738.4 L116.2 737.1 L118.2 734.5 L120.2 742.6 L122.2 750.4 L123.7 749.4 L125.2 746.5 L126.7 746.8 L128.2 745.7 L130.3 740.5 L132.3 737.5 L133.8 740.7 L135.3 745.5 L136.8 749.7 L138.3 751.1 L140.3 741.8 L141.8 737.7 L143.3 736.7 L144.8 738.3 L146.3 739.8 L147.9 742.3 L149.4 740.3 L151.4 742.3 L153.4 740.6 L154.9 743.1 L156.4 745.7 L157.9 744.2 L159.4 745.1 L160.9 742.4 L162.4 738.6 L164.4 730.9 L166.5 741.9 L168.0 745.8 L169.5 748.7 L171.9 754.8 L173.5 772.3 L175.5 781.1 L177.5 778.1 L179.5 768.4 L181.0 772.4 L182.5 776.1 L184.1 773.2 L185.6 769.7 L187.1 767.0 L188.6 764.1 L190.1 768.8 L191.6 774.1 L193.1 767.3 L194.6 763.9 L196.6 757.2 L199.2 755.6 L201.7 759.9 L203.7 772.7 L205.7 775.3 L207.7 777.9 L209.7 779.0 L211.7 783.3 L213.4 784.4 L215.1 786.5 L216.7 787.0 L218.4 785.6 L220.1 784.2 L221.8 781.9 L223.3 776.2 L224.8 768.3 L226.8 765.4 L228.8 758.3 L230.3 763.6 L231.8 767.3 L233.8 770.4 L235.8 774.7 L237.5 774.6 L239.2 774.5 L240.9 773.7 L242.5 774.0 L244.2 771.6 L245.9 770.9 L247.6 771.9 L249.3 771.3 L250.9 769.8 L252.6 770.0 L254.3 768.8 L256.0 766.0 L257.5 762.3 L259.0 756.5 L260.5 755.4 L262.0 751.1 L263.5 754.8 L265.0 758.2 L266.5 757.1 L268.0 755.5 L269.5 760.8 L271.0 766.5 L272.6 772.9 L274.1 778.3 L275.6 780.7 L277.1 784.2 L278.6 786.2 L280.1 788.0 L281.6 783.8 L283.1 777.3 L284.6 778.0 L286.1 775.1 L288.1 773.5 L290.1 772.7 L292.2 776.1 L294.2 778.5 L296.2 776.4 L298.2 771.2 L300.2 773.4 L302.2 773.0 L304.2 768.6 L306.2 766.9 L308.3 762.8 L310.3 758.4 L311.8 750.4 L313.3 746.3 L315.3 741.4 L317.3 744.7 L318.8 749.2 L320.3 751.8 L321.8 751.8 L323.3 750.3 L324.8 746.6 L326.4 742.1 L328.8 736.3 L331.4 749.3 L333.2 748.3 L335.0 747.7 L337.0 749.9 L339.0 751.5 L340.5 749.2 L342.0 748.1 L343.5 748.9 L345.1 752.7 L346.6 753.4 L348.1 756.6 L349.6 757.6 L351.1 755.0 L353.1 764.9 L354.6 770.3 L356.1 775.1 L357.6 776.6 L359.1 779.9 L360.6 776.2 L362.2 772.2 L364.2 770.0 L366.2 770.2 L368.2 770.4 L370.2 766.7 L372.2 767.1 L374.2 769.1 L376.2 768.6 L378.2 768.4 L380.3 766.8 L382.3 767.8 L383.8 772.0 L385.3 777.3 L387.7 759.7 L390.3 766.3 L391.8 765.1 L393.3 767.8 L394.8 763.8 L396.3 760.9 L397.9 762.7 L399.4 765.8 L401.4 767.4 L403.4 772.0 L405.4 771.0 L407.4 771.9 L409.4 768.5 L411.4 768.1 L413.4 767.8 L415.5 771.2 L417.5 768.3 L419.5 767.7 L421.5 767.9 L423.5 771.0 L425.0 769.1 L426.5 768.9 L429.1 762.1 L431.5 767.0 L433.6 766.9 L435.6 768.5 L437.6 768.5 L439.6 769.5 L441.1 773.4 L442.6 775.9 L445.2 764.6 L446.9 763.5 L448.6 764.9 L450.1 758.9 L451.7 754.5 L453.2 755.9 L454.7 757.8 L456.2 756.7 L457.7 758.8 L459.2 759.0 L460.7 764.4 L462.7 765.2 L464.7 765.1 L466.2 768.7 L467.7 772.8 L469.3 767.4 L470.8 764.3 L473.4 754.1 L475.8 754.1 L477.3 756.7 L478.8 758.8 L480.8 761.8 L482.8 764.2 L484.3 769.3 L485.8 776.0 L488.3 789.4 L490.3 779.3 L492.3 756.3 L494.3 747.7 L496.9 758.9 L499.5 745.3 L501.5 739.1 L503.9 746.8 L505.5 747.9 L507.0 749.0 L508.5 749.9 L510.0 752.4 L511.5 750.3 L513.0 750.6 L514.5 754.3 L516.0 755.9 L517.5 758.0 L519.0 758.2 L520.5 758.4 L522.0 758.0 L523.6 761.2 L525.1 763.9 L527.1 766.6 L529.1 766.3 L531.1 765.2 L533.1 766.0 L535.1 762.5 L537.1 763.4 L538.6 760.7 L540.1 759.0 L541.7 764.1 L543.2 771.8 L544.7 763.8 L546.2 756.6 L547.7 754.1 L549.2 749.6 L550.7 750.6 L552.2 755.0 L553.7 754.3 L555.2 757.4 L556.7 752.8 L558.3 749.4 L560.3 747.5 L562.3 745.7 L564.3 749.5 L566.3 755.0 L568.3 754.5 L570.3 757.3 L572.3 760.8 L574.3 759.9 L576.4 759.1 L578.4 756.1 L580.4 753.8 L582.4 750.1 L585.0 753.7 L587.0 752.2 L589.0 749.7 L590.5 752.3 L592.0 753.1 L593.5 744.7 L595.1 742.6 L596.6 742.9 L598.1 746.0 L599.6 738.5 L601.1 735.7 L603.5 734.2 L606.1 739.2 L608.1 744.4 L609.6 737.3 L611.1 731.5 L613.6 720.1 L616.2 721.6 L617.7 727.8 L619.2 733.3 L620.7 740.6 L622.2 746.5 L623.7 748.1 L625.2 748.8 L626.7 745.0 L628.2 744.3 L630.9 750.2 L633.3 741.7 L635.3 734.0 L636.8 737.1 L638.3 738.0 L639.8 741.6 L641.3 745.4 L642.8 746.2 L644.3 749.1 L645.8 751.9 L647.3 752.9 L648.9 752.5 L650.4 750.0 L651.9 756.3 L653.4 760.4 L655.4 758.5 L657.4 758.1 L659.4 759.6 L661.4 760.5 L663.4 762.0 L665.5 764.3 L667.5 763.3 L669.5 761.9 L671.5 762.2 L673.5 759.2 L675.5 756.1 L677.5 752.2 L679.5 751.2 L681.5 751.2 L683.6 752.6 L685.6 755.3 L687.6 755.3 L689.6 753.8 L691.6 753.0 L693.6 755.2 L695.6 756.5 L697.6 757.3 L699.6 758.7 L701.7 756.5 L703.7 757.0 L705.7 757.1 L707.2 760.8 L708.7 762.5 L711.3 747.8 L713.3 743.1 L715.7 757.3 L717.2 760.1 L718.7 767.3 L720.8 772.1 L722.8 757.5 L724.8 748.4 L726.3 756.7 L727.8 764.0 L729.3 758.4 L730.8 751.2 L732.3 756.1 L733.8 763.8 L735.3 759.3 L736.9 751.8 L738.4 760.2 L739.9 764.9 L741.9 775.1 L743.9 751.2 L745.9 734.5 L747.9 739.6 L749.9 755.4 L751.4 763.9 L752.9 770.3 L754.4 771.8 L756.0 771.0 L757.5 774.3 L759.0 778.6 L760.5 773.3 L762.0 765.6 L763.5 765.7 L765.0 765.2 L766.5 765.0 L768.0 764.5 L769.5 770.9 L771.0 772.4 L773.7 780.0 L775.7 784.6 L778.1 774.6 L779.6 770.1 L781.1 765.2 L782.6 763.5 L784.1 763.8 L785.6 770.7 L787.1 776.3 L788.6 776.6 L790.1 779.7 L792.2 776.5 L794.2 774.4 L796.2 776.3 L798.2 775.0 L800.2 774.6 L802.2 776.8 L804.2 776.2 L806.2 777.7 L807.7 773.3 L809.3 766.4 L811.3 742.2 L813.3 729.1 L815.3 734.5 L817.3 752.2 L819.3 729.7 L820.7 726.3 L822.7 737.5 L824.7 748.9 L827.4 738.3 L828.9 744.5 L830.4 749.8 L831.9 743.1 L833.4 740.0 L835.0 739.7 L837.0 750.2 L839.0 746.5 L840.5 751.8 L842.0 757.9 L843.5 762.1 L845.1 765.0 L846.6 768.5 L848.1 774.0 L850.7 786.5 L853.1 777.4 L854.6 775.5 L856.1 774.1 L857.6 776.7 L859.1 782.2 L860.6 785.9 L862.2 790.5 L863.7 790.8 L865.2 789.2 L866.7 787.0 L868.2 782.0 L869.7 785.5 L871.2 785.0 L873.2 788.5 L875.2 791.3 L877.2 787.8 L879.2 781.3 L880.8 780.9 L882.3 775.1 L883.8 779.6 L885.3 781.5 L887.3 785.2 L889.3 788.3 L891.3 789.4 L893.3 790.4 L895.3 790.2 L897.3 790.9 L898.9 786.4 L900.4 781.3 L902.4 781.7 L904.4 783.0 L906.4 788.6 L908.4 790.3 L909.9 789.9 L911.4 787.0 L913.4 784.4 L915.5 784.6 L917.0 779.8 L918.5 773.9 L921.1 769.9 L923.5 775.3 L925.0 781.4 L926.5 789.0 L928.0 790.7 L929.5 793.1 L931.5 795.5 L933.0 791.1 L934.6 789.8 L936.1 791.0 L937.6 793.5 L939.1 788.2 L940.6 782.7 L942.6 773.8 L944.1 771.9 L945.6 774.3 L947.1 767.8 L948.6 764.4 L950.6 757.9 L952.2 759.1 L953.7 760.4 L955.7 759.6 L958.1 756.4 L960.7 766.7 L962.2 773.7 L963.7 777.7 L965.2 778.0 L966.7 774.9 L968.2 778.9 L969.8 783.8 L971.3 793.5 L972.8 799.7 L974.8 810.2 L976.8 796.2 L978.8 784.5 L981.4 797.3 L983.8 786.4 L985.8 790.4 L987.9 793.1 L989.9 795.5 L991.9 797.7 L993.9 795.4 L995.9 790.5 L997.9 790.4 L999.9 789.3 L1001.9 791.3 L1003.9 792.1 L1006.0 793.1 L1008.0 795.6 L1009.5 796.9 L1011.0 796.3 L1012.5 791.3 L1014.0 787.1 L1015.5 790.6 L1017.0 791.4 L1018.5 794.3 L1020.0 797.4 L1022.0 793.3 L1024.1 787.9 L1026.1 785.9 L1028.1 784.8 L1029.6 778.2 L1031.1 769.9 L1033.1 770.5 L1034.6 773.9 L1036.1 778.0 L1038.5 769.8 L1041.2 785.5 L1042.7 787.1 L1044.2 786.8 L1046.6 790.6 L1049.2 796.3" stroke="#ff00ff" stroke-width="4.8"/>
<path d="M85.5 765.05 H1050.2" stroke="#000" stroke-width="1.6" stroke-linecap="butt"/>
<path d="M86.0 764.5 C86.8 763.7 89.2 761.5 91.0 759.5 C92.9 757.5 95.2 754.3 97.1 752.4 C98.9 750.6 100.4 749.3 102.1 748.4 C103.8 747.6 105.4 747.2 107.1 747.4 C108.8 747.6 110.5 748.6 112.2 749.4 C113.8 750.3 115.3 751.3 117.2 752.4 C119.0 753.6 121.2 755.3 123.2 756.5 C125.2 757.6 127.2 758.7 129.2 759.5 C131.3 760.2 133.3 760.8 135.3 760.9 C137.3 761.0 139.3 760.5 141.3 760.1 C143.3 759.6 145.3 758.6 147.3 758.1 C149.4 757.5 151.4 757.3 153.4 756.9 C155.4 756.4 157.7 755.8 159.4 755.4 C161.1 755.1 161.8 754.7 163.4 754.8 C165.1 755.0 167.5 755.9 169.5 756.5 C171.5 757.1 173.5 757.6 175.5 758.5 C177.5 759.3 179.5 760.5 181.5 761.5 C183.6 762.4 185.6 763.3 187.6 764.1 C189.6 764.9 191.6 765.5 193.6 766.1 C195.6 766.7 197.6 766.9 199.6 767.5 C201.7 768.1 203.7 768.9 205.7 769.5 C207.7 770.1 209.7 770.9 211.7 771.1 C213.7 771.4 215.7 771.4 217.7 771.1 C219.8 770.9 221.8 770.0 223.8 769.5 C225.8 769.0 227.8 768.5 229.8 768.1 C231.8 767.7 233.8 767.5 235.8 767.1 C237.9 766.7 239.9 766.3 241.9 765.9 C243.9 765.5 245.9 765.1 247.9 764.9 C249.9 764.7 251.9 764.8 253.9 764.5 C256.0 764.2 258.1 763.3 260.0 762.9 C261.8 762.5 263.3 761.8 265.0 762.1 C266.7 762.4 268.2 763.4 270.0 764.5 C271.9 765.6 274.1 767.2 276.1 768.5 C278.1 769.9 280.1 771.3 282.1 772.5 C284.1 773.8 286.1 775.0 288.1 776.2 C290.1 777.3 292.3 778.9 294.2 779.6 C296.0 780.2 297.5 780.5 299.2 780.2 C300.9 779.8 302.4 778.7 304.2 777.6 C306.1 776.5 308.3 774.8 310.3 773.5 C312.3 772.3 314.3 770.8 316.3 769.9 C318.3 769.0 320.3 768.8 322.3 768.1 C324.3 767.5 326.7 766.6 328.4 766.1 C330.0 765.6 331.3 764.8 332.4 764.9 C333.5 765.0 333.6 765.7 335.0 766.5 C336.4 767.3 339.0 767.7 341.0 769.5 C343.0 771.4 345.1 775.1 347.1 777.6 C349.1 780.1 351.1 782.9 353.1 784.6 C355.1 786.3 357.3 787.5 359.1 787.6 C361.0 787.8 362.5 786.5 364.2 785.6 C365.8 784.7 367.3 783.0 369.2 782.2 C371.0 781.4 372.9 780.8 375.2 780.6 C377.6 780.4 380.6 780.9 383.3 781.0 C386.0 781.1 388.6 781.2 391.3 781.2 C394.0 781.2 397.0 780.8 399.4 781.2 C401.7 781.6 403.4 782.7 405.4 783.6 C407.4 784.5 409.4 785.8 411.4 786.6 C413.4 787.5 415.5 788.2 417.5 788.6 C419.5 789.0 421.5 789.3 423.5 789.0 C425.5 788.8 427.5 787.7 429.5 787.2 C431.5 786.7 433.6 786.6 435.6 786.2 C437.6 785.8 439.6 785.1 441.6 785.0 C443.6 784.9 445.6 785.7 447.6 785.6 C449.6 785.5 451.7 784.8 453.7 784.2 C455.7 783.6 457.7 782.5 459.7 782.2 C461.7 781.9 463.7 782.4 465.7 782.6 C467.7 782.8 469.8 783.5 471.8 783.6 C473.8 783.7 475.8 783.6 477.8 783.2 C479.8 782.8 481.8 782.5 483.8 781.2 C485.8 779.9 487.9 777.7 489.9 775.6 C491.9 773.4 493.9 770.2 495.9 768.5 C497.9 766.8 500.3 766.1 501.9 765.5 C503.6 764.9 504.6 764.8 506.0 765.1 C507.3 765.4 508.3 766.6 510.0 767.5 C511.7 768.4 514.0 769.6 516.0 770.5 C518.0 771.4 520.0 772.4 522.0 772.9 C524.1 773.4 526.1 773.8 528.1 773.5 C530.1 773.3 532.1 772.4 534.1 771.5 C536.1 770.7 538.1 769.5 540.1 768.5 C542.2 767.5 544.2 766.3 546.2 765.5 C548.2 764.7 550.5 764.1 552.2 763.5 C553.9 762.9 554.6 762.4 556.2 762.1 C557.9 761.7 560.3 762.1 562.3 761.5 C564.3 760.9 566.3 759.5 568.3 758.5 C570.3 757.5 572.7 756.5 574.3 755.4 C576.0 754.4 577.2 753.8 578.4 752.4 C579.5 751.1 580.3 749.1 581.4 747.4 C582.5 745.7 583.6 744.6 585.0 742.4 C586.4 740.2 588.4 737.2 590.0 734.3 C591.7 731.5 593.4 728.3 595.1 725.3 C596.7 722.3 598.4 719.1 600.1 716.2 C601.8 713.4 603.4 710.6 605.1 708.2 C606.8 705.8 608.5 703.3 610.1 701.8 C611.8 700.3 613.7 699.3 615.2 699.2 C616.7 699.0 617.9 699.6 619.2 700.8 C620.5 701.9 621.7 703.8 623.2 706.2 C624.7 708.6 626.6 712.2 628.2 715.2 C629.9 718.3 631.6 721.6 633.3 724.3 C634.9 727.0 636.6 729.4 638.3 731.3 C640.0 733.3 642.0 735.0 643.3 735.9 C644.7 736.9 645.5 737.3 646.3 737.0 C647.2 736.6 647.3 734.1 648.4 733.9 C649.4 733.8 650.9 735.2 652.4 735.9 C653.9 736.7 655.7 737.5 657.4 738.4 C659.1 739.3 660.8 740.2 662.4 741.4 C664.1 742.5 665.6 744.5 667.5 745.4 C669.3 746.3 671.5 746.6 673.5 747.0 C675.5 747.4 677.5 747.7 679.5 748.0 C681.5 748.3 683.9 748.6 685.6 749.0 C687.2 749.4 688.1 749.4 689.6 750.4 C691.1 751.5 692.9 753.6 694.6 755.4 C696.3 757.3 698.0 759.6 699.6 761.5 C701.3 763.3 703.0 765.3 704.7 766.5 C706.3 767.7 708.2 768.7 709.7 768.5 C711.2 768.4 712.2 767.2 713.7 765.5 C715.2 763.8 717.1 760.8 718.7 758.5 C720.4 756.1 722.1 753.3 723.8 751.4 C725.5 749.6 727.1 747.9 728.8 747.4 C730.5 746.9 732.2 747.7 733.8 748.4 C735.5 749.1 737.2 750.7 738.9 751.4 C740.5 752.2 742.0 752.6 743.9 752.8 C745.7 753.1 747.9 752.6 749.9 752.8 C751.9 753.1 753.9 753.8 756.0 754.4 C758.0 755.0 760.0 755.8 762.0 756.5 C764.0 757.1 766.0 757.5 768.0 758.5 C770.0 759.5 772.0 761.2 774.1 762.5 C776.1 763.8 778.1 765.2 780.1 766.1 C782.1 767.0 784.1 767.5 786.1 768.1 C788.1 768.7 790.1 769.0 792.2 769.5 C794.2 770.0 796.5 771.0 798.2 771.1 C799.9 771.3 800.5 771.0 802.2 770.5 C803.9 770.1 806.2 768.9 808.3 768.5 C810.3 768.2 812.3 768.4 814.3 768.5 C816.3 768.6 818.5 768.9 820.3 769.1 C822.2 769.4 824.0 769.8 825.3 770.1 C826.7 770.4 827.4 771.1 828.4 770.9 C829.4 770.8 830.3 769.5 831.4 769.1 C832.5 768.8 833.4 769.0 835.0 768.9 C836.6 768.8 839.0 768.4 841.0 768.5 C843.0 768.6 845.1 768.5 847.1 769.5 C849.1 770.5 851.1 772.5 853.1 774.6 C855.1 776.6 857.1 779.6 859.1 781.6 C861.1 783.6 863.3 785.4 865.2 786.6 C867.0 787.9 868.7 788.5 870.2 789.0 C871.7 789.5 872.9 789.9 874.2 789.6 C875.6 789.4 876.7 788.5 878.2 787.6 C879.8 786.7 881.6 785.0 883.3 784.2 C884.9 783.4 886.6 782.8 888.3 782.6 C890.0 782.4 891.5 782.7 893.3 783.2 C895.2 783.7 897.5 784.5 899.4 785.6 C901.2 786.7 902.7 788.5 904.4 789.6 C906.1 790.7 907.6 791.9 909.4 792.2 C911.3 792.6 913.4 792.1 915.5 791.6 C917.5 791.2 919.5 790.4 921.5 789.6 C923.5 788.9 925.5 787.7 927.5 787.0 C929.5 786.3 931.5 786.4 933.6 785.6 C935.6 784.8 937.6 783.4 939.6 782.2 C941.6 781.0 943.6 779.6 945.6 778.2 C947.6 776.7 949.6 775.0 951.7 773.5 C953.7 772.1 955.8 770.6 957.7 769.5 C959.5 768.4 961.0 767.5 962.7 766.9 C964.4 766.3 966.1 765.8 967.7 766.1 C969.4 766.4 971.1 767.3 972.8 768.5 C974.4 769.8 976.0 771.7 977.8 773.5 C979.6 775.4 981.8 777.7 983.8 779.6 C985.8 781.4 987.9 783.3 989.9 784.6 C991.9 785.9 993.9 787.0 995.9 787.6 C997.9 788.2 999.9 788.4 1001.9 788.2 C1003.9 788.1 1006.0 787.4 1008.0 786.6 C1010.0 785.8 1012.0 784.4 1014.0 783.6 C1016.0 782.8 1018.0 782.3 1020.0 781.6 C1022.0 780.9 1024.1 780.0 1026.1 779.2 C1028.1 778.3 1030.1 777.3 1032.1 776.6 C1034.1 775.8 1036.1 775.1 1038.1 774.6 C1040.1 774.0 1042.2 773.5 1044.2 773.5 C1046.2 773.5 1049.2 774.4 1050.2 774.6" stroke="#ff0000" stroke-width="4.7"/>
</g>
<text transform="translate(1024.00,841.10) scale(1,1.040)" text-anchor="start" font-size="32.00" fill="#000" font-family="Liberation Sans, sans-serif">No.949</text>
<path d="M1121.3 670.48 V860.43 M1121.3 671.20 h-11.5 M1121.3 718.33 h-11.5 M1121.3 765.45 h-11.5 M1121.3 812.58 h-11.5 M1121.3 859.70 h-11.5" stroke="#ff0000" fill="none" stroke-width="1.45"/>
<text transform="translate(70.70,683.80) scale(1,1.040)" text-anchor="end" font-size="32.00" fill="#0000ff" font-family="Liberation Sans, sans-serif">6</text>
<text transform="translate(1134.15,683.80) scale(1,1.040)" text-anchor="start" font-size="32.00" fill="#ff0000" font-family="Liberation Sans, sans-serif">0.6</text>
<text transform="translate(70.70,730.93) scale(1,1.040)" text-anchor="end" font-size="32.00" fill="#0000ff" font-family="Liberation Sans, sans-serif">3</text>
<text transform="translate(1134.15,730.93) scale(1,1.040)" text-anchor="start" font-size="32.00" fill="#ff0000" font-family="Liberation Sans, sans-serif">0.3</text>
<text transform="translate(70.70,778.05) scale(1,1.040)" text-anchor="end" font-size="32.00" fill="#0000ff" font-family="Liberation Sans, sans-serif">0</text>
<text transform="translate(1134.15,778.05) scale(1,1.040)" text-anchor="start" font-size="32.00" fill="#ff0000" font-family="Liberation Sans, sans-serif">0</text>
<text transform="translate(70.70,825.18) scale(1,1.040)" text-anchor="end" font-size="32.00" fill="#0000ff" font-family="Liberation Sans, sans-serif">-3</text>
<text transform="translate(1134.15,825.18) scale(1,1.040)" text-anchor="start" font-size="32.00" fill="#ff0000" font-family="Liberation Sans, sans-serif">-0.3</text>
<text transform="translate(70.70,872.30) scale(1,1.040)" text-anchor="end" font-size="32.00" fill="#0000ff" font-family="Liberation Sans, sans-serif">-6</text>
<text transform="translate(1134.15,872.30) scale(1,1.040)" text-anchor="start" font-size="32.00" fill="#ff0000" font-family="Liberation Sans, sans-serif">-0.6</text>
<text transform="translate(107.30,905.20) scale(1,1.040)" text-anchor="middle" font-size="32.00" fill="#000" font-family="Liberation Sans, sans-serif">Jul 93</text>
<text transform="translate(340.31,905.20) scale(1,1.040)" text-anchor="middle" font-size="32.00" fill="#000" font-family="Liberation Sans, sans-serif">Jan 94</text>
<text transform="translate(573.32,905.20) scale(1,1.040)" text-anchor="middle" font-size="32.00" fill="#000" font-family="Liberation Sans, sans-serif">Jul 94</text>
<text transform="translate(806.33,905.20) scale(1,1.040)" text-anchor="middle" font-size="32.00" fill="#000" font-family="Liberation Sans, sans-serif">Jan 95</text>
<text transform="translate(1039.34,905.20) scale(1,1.040)" text-anchor="middle" font-size="32.00" fill="#000" font-family="Liberation Sans, sans-serif">Jul 95</text>
<text transform="translate(25.80,544.40) rotate(-90) scale(1,1.040)" text-anchor="middle" font-size="35.65" fill="#0000ff" font-family="Liberation Sans, sans-serif">Normalized Temperature</text>
<text transform="translate(1235.60,545.40) rotate(-90) scale(1,1.040)" text-anchor="middle" font-size="35.55" fill="#ff0000" font-family="Liberation Sans, sans-serif">Sea Leave Anormaly</text>
<path d="M281.3 936.2 H352.5" stroke="#0000ff" stroke-width="5" fill="none"/>
<text transform="translate(359.90,945.50) scale(1,1.040)" text-anchor="start" font-size="25.30" fill="#000" font-family="Liberation Sans, sans-serif">2000m</text>
<path d="M449.7 936.2 H520.6" stroke="#ff00ff" stroke-width="5" fill="none"/>
<text transform="translate(527.30,945.50) scale(1,1.040)" text-anchor="start" font-size="25.30" fill="#000" font-family="Liberation Sans, sans-serif">3000m</text>
<path d="M617.5 936.2 H689.0" stroke="#00ffff" stroke-width="5" fill="none"/>
<text transform="translate(694.70,945.50) scale(1,1.040)" text-anchor="start" font-size="25.30" fill="#000" font-family="Liberation Sans, sans-serif">4000m</text>
<path d="M785.0 936.2 H856.3" stroke="#ff0000" stroke-width="5" fill="none"/>
<text transform="translate(862.40,945.50) scale(1,1.040)" text-anchor="start" font-size="25.30" fill="#000" font-family="Liberation Sans, sans-serif">SLA</text>
</svg>
</body></html>
